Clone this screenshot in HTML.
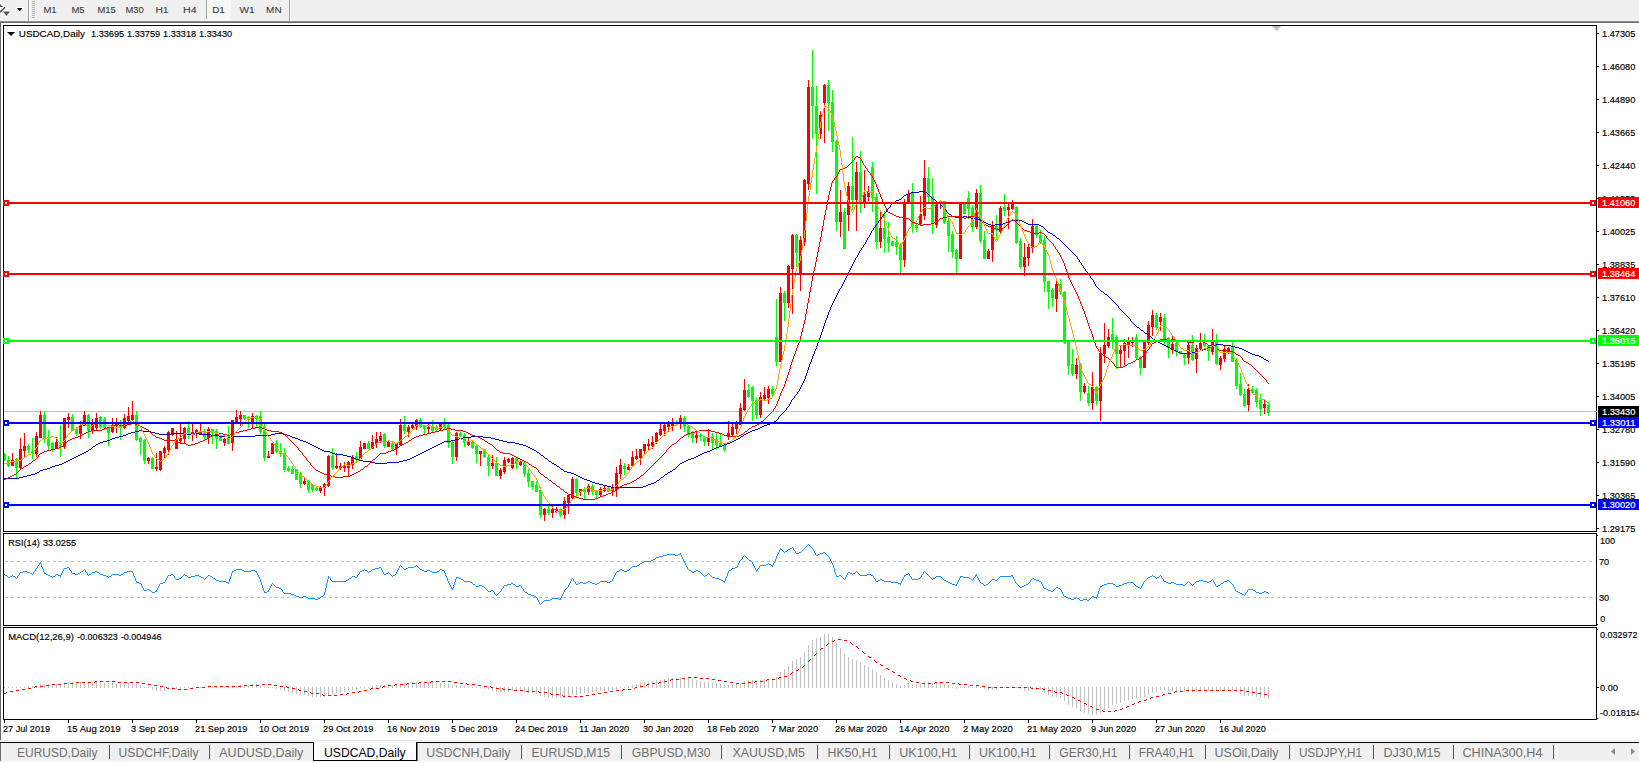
<!DOCTYPE html>
<html><head><meta charset="utf-8"><title>USDCAD,Daily</title>
<style>
html,body{margin:0;padding:0;background:#fff;}
body{width:1639px;height:763px;position:relative;overflow:hidden;font-family:"Liberation Sans",sans-serif;}
.abs{position:absolute;}
#tb{left:0;top:0;width:1639px;height:21px;background:#f0f0f0;}
.tbt{position:absolute;top:4px;font-size:10.5px;color:#3c3c3c;line-height:12px;white-space:nowrap;}
.tab{position:absolute;top:745px;font-size:12.5px;color:#6a6a6a;line-height:14px;white-space:nowrap;}
.sep{position:absolute;top:745px;width:1px;height:14px;background:#555;}
</style></head><body>
<div class="abs" id="tb"></div>
<div class="abs" style="left:0;top:21px;width:1639px;height:1px;background:#919191"></div>
<div class="abs" style="left:0;top:22px;width:1639px;height:1px;background:#696969"></div>
<div class="abs" style="left:0;top:23px;width:1px;height:717px;background:#696969"></div>
<!-- toolbar -->
<div class="abs" style="left:28px;top:0;width:1px;height:21px;background:#a0a0a0"></div>
<div class="abs" style="left:29px;top:0;width:1px;height:21px;background:#fff"></div>
<div class="abs" style="left:32px;top:1px;width:3px;height:18px;background:repeating-linear-gradient(#b0b0b0 0 1px,#f0f0f0 1px 2px)"></div>
<div class="abs" style="left:206px;top:0;width:1px;height:19px;background:#a0a0a0"></div>
<div class="abs" style="left:207px;top:0;width:24px;height:19px;background:#f7f7f7"></div><div class="abs" style="left:206px;top:19px;width:26px;height:1px;background:#fbfbfb"></div>
<div class="abs" style="left:289px;top:0;width:1px;height:21px;background:#a0a0a0"></div>
<div class="abs" style="left:290px;top:0;width:1px;height:21px;background:#fff"></div>
<svg class="abs" style="left:0;top:0" width="300" height="21" viewBox="0 0 300 21"><g stroke="#fff" stroke-width="2" stroke-linejoin="round" fill="#fff"><path d="M0 4l3 3h-3z"/><path d="M5 7.3L0 12.3"/><path d="M3 11.5h7l-3.5 4.5z"/><path d="M17 8h6l-3 3.2z"/></g><path d="M0 4l3 3h-3z" fill="#505050"/><path d="M5 7.3L0 12.3" stroke="#444" stroke-width="1.4" fill="none"/><path d="M3 11.5h7l-3.5 4.5z" fill="#555"/><path d="M17 8h5.6l-2.8 3.2z" fill="#000"/><g font-family="Liberation Sans, sans-serif" font-size="9.9" fill="#3a3a3a" stroke="#3a3a3a" stroke-width="0.1"><text x="43.4" y="13" textLength="13.2" lengthAdjust="spacingAndGlyphs">M1</text><text x="71.4" y="13" textLength="13.2" lengthAdjust="spacingAndGlyphs">M5</text><text x="97.4" y="13" textLength="18.2" lengthAdjust="spacingAndGlyphs">M15</text><text x="125.4" y="13" textLength="18.2" lengthAdjust="spacingAndGlyphs">M30</text><text x="155.4" y="13" textLength="13.2" lengthAdjust="spacingAndGlyphs">H1</text><text x="182.9" y="13" textLength="13.7" lengthAdjust="spacingAndGlyphs">H4</text><text x="212.2" y="13" textLength="12.6" lengthAdjust="spacingAndGlyphs">D1</text><text x="239.5" y="13" textLength="15.1" lengthAdjust="spacingAndGlyphs">W1</text><text x="266.1" y="13" textLength="15.5" lengthAdjust="spacingAndGlyphs">MN</text></g></svg>
<svg width="1639" height="763" viewBox="0 0 1639 763" style="position:absolute;left:0;top:0" shape-rendering="crispEdges">
<rect x="3" y="25" width="1594" height="1" fill="#000"/>
<rect x="3" y="531" width="1594" height="1" fill="#000"/>
<rect x="3" y="25" width="1" height="507" fill="#000"/>
<rect x="1596" y="25" width="1" height="507" fill="#000"/>
<rect x="3" y="533" width="1594" height="1" fill="#000"/>
<rect x="3" y="625" width="1594" height="1" fill="#000"/>
<rect x="3" y="533" width="1" height="93" fill="#000"/>
<rect x="1596" y="533" width="1" height="93" fill="#000"/>
<rect x="3" y="627" width="1594" height="1" fill="#000"/>
<rect x="3" y="719" width="1594" height="1" fill="#000"/>
<rect x="3" y="627" width="1" height="93" fill="#000"/>
<rect x="1596" y="627" width="1" height="93" fill="#000"/>
<defs><clipPath id="c1"><rect x="4" y="26" width="1592" height="505"/></clipPath><clipPath id="c2"><rect x="4" y="534" width="1592" height="91"/></clipPath><clipPath id="c3"><rect x="4" y="628" width="1592" height="91"/></clipPath></defs>
<g clip-path="url(#c1)">
<rect x="4" y="411" width="1592" height="1" fill="#c0c0c0"/>
<rect x="4" y="453" width="1" height="8" fill="#00ff00"/>
<rect x="3" y="454" width="3" height="6" fill="#00ff00"/>
<rect x="8" y="456" width="1" height="11" fill="#00ff00"/>
<rect x="7" y="460" width="3" height="6" fill="#00ff00"/>
<rect x="12" y="453" width="1" height="13" fill="#ff0000"/>
<rect x="11" y="460" width="3" height="6" fill="#ff0000"/>
<rect x="16" y="458" width="1" height="21" fill="#00ff00"/>
<rect x="15" y="459" width="3" height="9" fill="#00ff00"/>
<rect x="20" y="438" width="1" height="32" fill="#ff0000"/>
<rect x="19" y="449" width="3" height="19" fill="#ff0000"/>
<rect x="24" y="433" width="1" height="24" fill="#ff0000"/>
<rect x="23" y="446" width="3" height="5" fill="#ff0000"/>
<rect x="28" y="444" width="1" height="9" fill="#00ff00"/>
<rect x="27" y="446" width="3" height="4" fill="#00ff00"/>
<rect x="32" y="438" width="1" height="21" fill="#00ff00"/>
<rect x="31" y="451" width="3" height="3" fill="#00ff00"/>
<rect x="36" y="432" width="1" height="25" fill="#ff0000"/>
<rect x="35" y="436" width="3" height="18" fill="#ff0000"/>
<rect x="40" y="411" width="1" height="27" fill="#ff0000"/>
<rect x="39" y="415" width="3" height="23" fill="#ff0000"/>
<rect x="44" y="412" width="1" height="31" fill="#00ff00"/>
<rect x="43" y="415" width="3" height="24" fill="#00ff00"/>
<rect x="48" y="430" width="1" height="20" fill="#00ff00"/>
<rect x="47" y="439" width="3" height="7" fill="#00ff00"/>
<rect x="52" y="442" width="1" height="10" fill="#00ff00"/>
<rect x="51" y="443" width="3" height="7" fill="#00ff00"/>
<rect x="56" y="437" width="1" height="12" fill="#ff0000"/>
<rect x="55" y="442" width="3" height="7" fill="#ff0000"/>
<rect x="60" y="425" width="1" height="32" fill="#00ff00"/>
<rect x="59" y="444" width="3" height="3" fill="#00ff00"/>
<rect x="64" y="418" width="1" height="31" fill="#ff0000"/>
<rect x="63" y="418" width="3" height="29" fill="#ff0000"/>
<rect x="68" y="413" width="1" height="15" fill="#ff0000"/>
<rect x="67" y="417" width="3" height="3" fill="#ff0000"/>
<rect x="72" y="414" width="1" height="17" fill="#00ff00"/>
<rect x="71" y="417" width="3" height="14" fill="#00ff00"/>
<rect x="76" y="427" width="1" height="9" fill="#00ff00"/>
<rect x="75" y="429" width="3" height="5" fill="#00ff00"/>
<rect x="80" y="421" width="1" height="18" fill="#ff0000"/>
<rect x="79" y="425" width="3" height="9" fill="#ff0000"/>
<rect x="84" y="411" width="1" height="15" fill="#ff0000"/>
<rect x="83" y="415" width="3" height="11" fill="#ff0000"/>
<rect x="88" y="414" width="1" height="24" fill="#00ff00"/>
<rect x="87" y="415" width="3" height="16" fill="#00ff00"/>
<rect x="92" y="419" width="1" height="15" fill="#ff0000"/>
<rect x="91" y="422" width="3" height="9" fill="#ff0000"/>
<rect x="96" y="413" width="1" height="18" fill="#ff0000"/>
<rect x="95" y="418" width="3" height="10" fill="#ff0000"/>
<rect x="100" y="416" width="1" height="13" fill="#00ff00"/>
<rect x="99" y="417" width="3" height="10" fill="#00ff00"/>
<rect x="104" y="417" width="1" height="13" fill="#00ff00"/>
<rect x="103" y="419" width="3" height="9" fill="#00ff00"/>
<rect x="108" y="427" width="1" height="19" fill="#00ff00"/>
<rect x="107" y="428" width="3" height="5" fill="#00ff00"/>
<rect x="112" y="418" width="1" height="15" fill="#ff0000"/>
<rect x="111" y="425" width="3" height="7" fill="#ff0000"/>
<rect x="116" y="418" width="1" height="15" fill="#ff0000"/>
<rect x="115" y="424" width="3" height="2" fill="#ff0000"/>
<rect x="120" y="420" width="1" height="20" fill="#00ff00"/>
<rect x="119" y="425" width="3" height="3" fill="#00ff00"/>
<rect x="124" y="414" width="1" height="15" fill="#ff0000"/>
<rect x="123" y="418" width="3" height="10" fill="#ff0000"/>
<rect x="128" y="407" width="1" height="15" fill="#ff0000"/>
<rect x="127" y="416" width="3" height="5" fill="#ff0000"/>
<rect x="132" y="401" width="1" height="20" fill="#ff0000"/>
<rect x="131" y="415" width="3" height="5" fill="#ff0000"/>
<rect x="136" y="411" width="1" height="30" fill="#00ff00"/>
<rect x="135" y="415" width="3" height="25" fill="#00ff00"/>
<rect x="140" y="437" width="1" height="18" fill="#00ff00"/>
<rect x="139" y="438" width="3" height="4" fill="#00ff00"/>
<rect x="144" y="439" width="1" height="25" fill="#00ff00"/>
<rect x="143" y="440" width="3" height="21" fill="#00ff00"/>
<rect x="148" y="457" width="1" height="7" fill="#ff0000"/>
<rect x="147" y="458" width="3" height="3" fill="#ff0000"/>
<rect x="152" y="457" width="1" height="12" fill="#00ff00"/>
<rect x="151" y="458" width="3" height="11" fill="#00ff00"/>
<rect x="156" y="453" width="1" height="18" fill="#ff0000"/>
<rect x="155" y="467" width="3" height="2" fill="#ff0000"/>
<rect x="160" y="451" width="1" height="20" fill="#ff0000"/>
<rect x="159" y="451" width="3" height="19" fill="#ff0000"/>
<rect x="164" y="446" width="1" height="12" fill="#ff0000"/>
<rect x="163" y="448" width="3" height="5" fill="#ff0000"/>
<rect x="168" y="431" width="1" height="24" fill="#ff0000"/>
<rect x="167" y="432" width="3" height="18" fill="#ff0000"/>
<rect x="172" y="428" width="1" height="8" fill="#ff0000"/>
<rect x="171" y="428" width="3" height="7" fill="#ff0000"/>
<rect x="176" y="431" width="1" height="18" fill="#ff0000"/>
<rect x="175" y="439" width="3" height="10" fill="#ff0000"/>
<rect x="180" y="424" width="1" height="20" fill="#ff0000"/>
<rect x="179" y="438" width="3" height="3" fill="#ff0000"/>
<rect x="184" y="427" width="1" height="17" fill="#ff0000"/>
<rect x="183" y="428" width="3" height="11" fill="#ff0000"/>
<rect x="188" y="421" width="1" height="18" fill="#00ff00"/>
<rect x="187" y="428" width="3" height="7" fill="#00ff00"/>
<rect x="192" y="424" width="1" height="17" fill="#ff0000"/>
<rect x="191" y="432" width="3" height="3" fill="#ff0000"/>
<rect x="196" y="429" width="1" height="9" fill="#ff0000"/>
<rect x="195" y="430" width="3" height="3" fill="#ff0000"/>
<rect x="200" y="424" width="1" height="10" fill="#ff0000"/>
<rect x="199" y="431" width="3" height="3" fill="#ff0000"/>
<rect x="204" y="429" width="1" height="11" fill="#00ff00"/>
<rect x="203" y="431" width="3" height="6" fill="#00ff00"/>
<rect x="208" y="427" width="1" height="17" fill="#ff0000"/>
<rect x="207" y="429" width="3" height="9" fill="#ff0000"/>
<rect x="212" y="429" width="1" height="15" fill="#00ff00"/>
<rect x="211" y="429" width="3" height="4" fill="#00ff00"/>
<rect x="216" y="429" width="1" height="20" fill="#00ff00"/>
<rect x="215" y="431" width="3" height="8" fill="#00ff00"/>
<rect x="220" y="436" width="1" height="5" fill="#00ff00"/>
<rect x="219" y="437" width="3" height="4" fill="#00ff00"/>
<rect x="224" y="438" width="1" height="8" fill="#ff0000"/>
<rect x="223" y="439" width="3" height="4" fill="#ff0000"/>
<rect x="228" y="426" width="1" height="18" fill="#00ff00"/>
<rect x="227" y="438" width="3" height="6" fill="#00ff00"/>
<rect x="232" y="420" width="1" height="31" fill="#ff0000"/>
<rect x="231" y="420" width="3" height="23" fill="#ff0000"/>
<rect x="236" y="410" width="1" height="13" fill="#ff0000"/>
<rect x="235" y="417" width="3" height="5" fill="#ff0000"/>
<rect x="240" y="411" width="1" height="15" fill="#ff0000"/>
<rect x="239" y="415" width="3" height="4" fill="#ff0000"/>
<rect x="244" y="415" width="1" height="5" fill="#00ff00"/>
<rect x="243" y="415" width="3" height="4" fill="#00ff00"/>
<rect x="248" y="416" width="1" height="12" fill="#00ff00"/>
<rect x="247" y="417" width="3" height="3" fill="#00ff00"/>
<rect x="252" y="413" width="1" height="16" fill="#ff0000"/>
<rect x="251" y="416" width="3" height="7" fill="#ff0000"/>
<rect x="256" y="415" width="1" height="12" fill="#00ff00"/>
<rect x="255" y="416" width="3" height="3" fill="#00ff00"/>
<rect x="260" y="411" width="1" height="23" fill="#00ff00"/>
<rect x="259" y="416" width="3" height="16" fill="#00ff00"/>
<rect x="264" y="424" width="1" height="37" fill="#00ff00"/>
<rect x="263" y="430" width="3" height="28" fill="#00ff00"/>
<rect x="268" y="451" width="1" height="7" fill="#ff0000"/>
<rect x="267" y="456" width="3" height="2" fill="#ff0000"/>
<rect x="272" y="443" width="1" height="11" fill="#ff0000"/>
<rect x="271" y="443" width="3" height="11" fill="#ff0000"/>
<rect x="276" y="440" width="1" height="13" fill="#00ff00"/>
<rect x="275" y="443" width="3" height="9" fill="#00ff00"/>
<rect x="280" y="443" width="1" height="14" fill="#00ff00"/>
<rect x="279" y="451" width="3" height="3" fill="#00ff00"/>
<rect x="284" y="448" width="1" height="24" fill="#00ff00"/>
<rect x="283" y="453" width="3" height="17" fill="#00ff00"/>
<rect x="288" y="466" width="1" height="6" fill="#00ff00"/>
<rect x="287" y="468" width="3" height="3" fill="#00ff00"/>
<rect x="292" y="466" width="1" height="8" fill="#00ff00"/>
<rect x="291" y="469" width="3" height="5" fill="#00ff00"/>
<rect x="296" y="469" width="1" height="11" fill="#00ff00"/>
<rect x="295" y="469" width="3" height="11" fill="#00ff00"/>
<rect x="300" y="472" width="1" height="16" fill="#00ff00"/>
<rect x="299" y="473" width="3" height="11" fill="#00ff00"/>
<rect x="304" y="478" width="1" height="7" fill="#ff0000"/>
<rect x="303" y="481" width="3" height="3" fill="#ff0000"/>
<rect x="308" y="480" width="1" height="13" fill="#00ff00"/>
<rect x="307" y="481" width="3" height="9" fill="#00ff00"/>
<rect x="312" y="484" width="1" height="8" fill="#00ff00"/>
<rect x="311" y="484" width="3" height="6" fill="#00ff00"/>
<rect x="316" y="486" width="1" height="5" fill="#00ff00"/>
<rect x="315" y="488" width="3" height="2" fill="#00ff00"/>
<rect x="320" y="486" width="1" height="7" fill="#ff0000"/>
<rect x="319" y="487" width="3" height="4" fill="#ff0000"/>
<rect x="324" y="483" width="1" height="13" fill="#ff0000"/>
<rect x="323" y="484" width="3" height="4" fill="#ff0000"/>
<rect x="328" y="455" width="1" height="32" fill="#ff0000"/>
<rect x="327" y="456" width="3" height="30" fill="#ff0000"/>
<rect x="332" y="448" width="1" height="22" fill="#00ff00"/>
<rect x="331" y="456" width="3" height="12" fill="#00ff00"/>
<rect x="336" y="453" width="1" height="16" fill="#ff0000"/>
<rect x="335" y="466" width="3" height="2" fill="#ff0000"/>
<rect x="340" y="463" width="1" height="7" fill="#ff0000"/>
<rect x="339" y="466" width="3" height="2" fill="#ff0000"/>
<rect x="344" y="462" width="1" height="10" fill="#ff0000"/>
<rect x="343" y="466" width="3" height="2" fill="#ff0000"/>
<rect x="348" y="461" width="1" height="16" fill="#ff0000"/>
<rect x="347" y="462" width="3" height="6" fill="#ff0000"/>
<rect x="352" y="455" width="1" height="14" fill="#ff0000"/>
<rect x="351" y="457" width="3" height="8" fill="#ff0000"/>
<rect x="356" y="452" width="1" height="11" fill="#00ff00"/>
<rect x="355" y="456" width="3" height="4" fill="#00ff00"/>
<rect x="360" y="441" width="1" height="18" fill="#ff0000"/>
<rect x="359" y="447" width="3" height="12" fill="#ff0000"/>
<rect x="364" y="443" width="1" height="6" fill="#ff0000"/>
<rect x="363" y="443" width="3" height="6" fill="#ff0000"/>
<rect x="368" y="441" width="1" height="8" fill="#00ff00"/>
<rect x="367" y="443" width="3" height="6" fill="#00ff00"/>
<rect x="372" y="435" width="1" height="14" fill="#ff0000"/>
<rect x="371" y="442" width="3" height="7" fill="#ff0000"/>
<rect x="376" y="432" width="1" height="16" fill="#ff0000"/>
<rect x="375" y="439" width="3" height="5" fill="#ff0000"/>
<rect x="380" y="432" width="1" height="11" fill="#ff0000"/>
<rect x="379" y="436" width="3" height="5" fill="#ff0000"/>
<rect x="384" y="433" width="1" height="15" fill="#00ff00"/>
<rect x="383" y="434" width="3" height="12" fill="#00ff00"/>
<rect x="388" y="440" width="1" height="7" fill="#ff0000"/>
<rect x="387" y="442" width="3" height="5" fill="#ff0000"/>
<rect x="392" y="441" width="1" height="9" fill="#00ff00"/>
<rect x="391" y="443" width="3" height="6" fill="#00ff00"/>
<rect x="396" y="443" width="1" height="12" fill="#ff0000"/>
<rect x="395" y="443" width="3" height="6" fill="#ff0000"/>
<rect x="400" y="419" width="1" height="27" fill="#ff0000"/>
<rect x="399" y="425" width="3" height="20" fill="#ff0000"/>
<rect x="404" y="416" width="1" height="18" fill="#00ff00"/>
<rect x="403" y="425" width="3" height="6" fill="#00ff00"/>
<rect x="408" y="425" width="1" height="12" fill="#ff0000"/>
<rect x="407" y="427" width="3" height="5" fill="#ff0000"/>
<rect x="412" y="424" width="1" height="5" fill="#ff0000"/>
<rect x="411" y="425" width="3" height="3" fill="#ff0000"/>
<rect x="416" y="419" width="1" height="11" fill="#ff0000"/>
<rect x="415" y="420" width="3" height="7" fill="#ff0000"/>
<rect x="420" y="418" width="1" height="10" fill="#00ff00"/>
<rect x="419" y="420" width="3" height="7" fill="#00ff00"/>
<rect x="424" y="425" width="1" height="10" fill="#00ff00"/>
<rect x="423" y="426" width="3" height="3" fill="#00ff00"/>
<rect x="428" y="423" width="1" height="10" fill="#ff0000"/>
<rect x="427" y="427" width="3" height="2" fill="#ff0000"/>
<rect x="432" y="420" width="1" height="12" fill="#00ff00"/>
<rect x="431" y="426" width="3" height="5" fill="#00ff00"/>
<rect x="436" y="425" width="1" height="6" fill="#00ff00"/>
<rect x="435" y="427" width="3" height="3" fill="#00ff00"/>
<rect x="440" y="424" width="1" height="7" fill="#ff0000"/>
<rect x="439" y="424" width="3" height="5" fill="#ff0000"/>
<rect x="444" y="418" width="1" height="11" fill="#00ff00"/>
<rect x="443" y="423" width="3" height="5" fill="#00ff00"/>
<rect x="448" y="424" width="1" height="24" fill="#00ff00"/>
<rect x="447" y="425" width="3" height="18" fill="#00ff00"/>
<rect x="452" y="441" width="1" height="23" fill="#00ff00"/>
<rect x="451" y="442" width="3" height="15" fill="#00ff00"/>
<rect x="456" y="432" width="1" height="29" fill="#ff0000"/>
<rect x="455" y="433" width="3" height="24" fill="#ff0000"/>
<rect x="460" y="432" width="1" height="5" fill="#00ff00"/>
<rect x="459" y="433" width="3" height="3" fill="#00ff00"/>
<rect x="464" y="433" width="1" height="14" fill="#00ff00"/>
<rect x="463" y="435" width="3" height="8" fill="#00ff00"/>
<rect x="468" y="438" width="1" height="8" fill="#ff0000"/>
<rect x="467" y="442" width="3" height="3" fill="#ff0000"/>
<rect x="472" y="440" width="1" height="9" fill="#00ff00"/>
<rect x="471" y="442" width="3" height="6" fill="#00ff00"/>
<rect x="476" y="445" width="1" height="18" fill="#00ff00"/>
<rect x="475" y="446" width="3" height="8" fill="#00ff00"/>
<rect x="480" y="451" width="1" height="15" fill="#ff0000"/>
<rect x="479" y="451" width="3" height="3" fill="#ff0000"/>
<rect x="484" y="449" width="1" height="9" fill="#00ff00"/>
<rect x="483" y="450" width="3" height="7" fill="#00ff00"/>
<rect x="488" y="455" width="1" height="21" fill="#00ff00"/>
<rect x="487" y="457" width="3" height="9" fill="#00ff00"/>
<rect x="492" y="455" width="1" height="14" fill="#ff0000"/>
<rect x="491" y="463" width="3" height="3" fill="#ff0000"/>
<rect x="496" y="457" width="1" height="19" fill="#00ff00"/>
<rect x="495" y="463" width="3" height="13" fill="#00ff00"/>
<rect x="500" y="468" width="1" height="11" fill="#ff0000"/>
<rect x="499" y="470" width="3" height="6" fill="#ff0000"/>
<rect x="504" y="457" width="1" height="17" fill="#ff0000"/>
<rect x="503" y="460" width="3" height="12" fill="#ff0000"/>
<rect x="508" y="458" width="1" height="5" fill="#ff0000"/>
<rect x="507" y="459" width="3" height="3" fill="#ff0000"/>
<rect x="512" y="457" width="1" height="12" fill="#ff0000"/>
<rect x="511" y="458" width="3" height="10" fill="#ff0000"/>
<rect x="516" y="458" width="1" height="11" fill="#00ff00"/>
<rect x="515" y="458" width="3" height="6" fill="#00ff00"/>
<rect x="520" y="460" width="1" height="6" fill="#ff0000"/>
<rect x="519" y="461" width="3" height="4" fill="#ff0000"/>
<rect x="524" y="461" width="1" height="16" fill="#00ff00"/>
<rect x="523" y="463" width="3" height="11" fill="#00ff00"/>
<rect x="528" y="469" width="1" height="18" fill="#00ff00"/>
<rect x="527" y="473" width="3" height="9" fill="#00ff00"/>
<rect x="532" y="481" width="1" height="9" fill="#00ff00"/>
<rect x="531" y="481" width="3" height="6" fill="#00ff00"/>
<rect x="536" y="481" width="1" height="11" fill="#00ff00"/>
<rect x="535" y="485" width="3" height="7" fill="#00ff00"/>
<rect x="540" y="487" width="1" height="31" fill="#00ff00"/>
<rect x="539" y="490" width="3" height="25" fill="#00ff00"/>
<rect x="544" y="508" width="1" height="13" fill="#ff0000"/>
<rect x="543" y="509" width="3" height="6" fill="#ff0000"/>
<rect x="548" y="504" width="1" height="11" fill="#00ff00"/>
<rect x="547" y="509" width="3" height="4" fill="#00ff00"/>
<rect x="552" y="506" width="1" height="12" fill="#ff0000"/>
<rect x="551" y="509" width="3" height="4" fill="#ff0000"/>
<rect x="556" y="507" width="1" height="6" fill="#ff0000"/>
<rect x="555" y="509" width="3" height="3" fill="#ff0000"/>
<rect x="560" y="508" width="1" height="9" fill="#00ff00"/>
<rect x="559" y="509" width="3" height="6" fill="#00ff00"/>
<rect x="564" y="497" width="1" height="22" fill="#ff0000"/>
<rect x="563" y="501" width="3" height="14" fill="#ff0000"/>
<rect x="568" y="494" width="1" height="20" fill="#ff0000"/>
<rect x="567" y="495" width="3" height="8" fill="#ff0000"/>
<rect x="572" y="477" width="1" height="22" fill="#ff0000"/>
<rect x="571" y="479" width="3" height="19" fill="#ff0000"/>
<rect x="576" y="478" width="1" height="18" fill="#00ff00"/>
<rect x="575" y="479" width="3" height="14" fill="#00ff00"/>
<rect x="580" y="489" width="1" height="7" fill="#ff0000"/>
<rect x="579" y="489" width="3" height="3" fill="#ff0000"/>
<rect x="584" y="487" width="1" height="12" fill="#00ff00"/>
<rect x="583" y="489" width="3" height="3" fill="#00ff00"/>
<rect x="588" y="484" width="1" height="11" fill="#ff0000"/>
<rect x="587" y="486" width="3" height="6" fill="#ff0000"/>
<rect x="592" y="484" width="1" height="11" fill="#00ff00"/>
<rect x="591" y="486" width="3" height="6" fill="#00ff00"/>
<rect x="596" y="490" width="1" height="9" fill="#00ff00"/>
<rect x="595" y="491" width="3" height="4" fill="#00ff00"/>
<rect x="600" y="487" width="1" height="10" fill="#ff0000"/>
<rect x="599" y="489" width="3" height="6" fill="#ff0000"/>
<rect x="604" y="486" width="1" height="6" fill="#ff0000"/>
<rect x="603" y="488" width="3" height="3" fill="#ff0000"/>
<rect x="608" y="486" width="1" height="6" fill="#00ff00"/>
<rect x="607" y="488" width="3" height="4" fill="#00ff00"/>
<rect x="612" y="484" width="1" height="12" fill="#ff0000"/>
<rect x="611" y="487" width="3" height="4" fill="#ff0000"/>
<rect x="616" y="467" width="1" height="30" fill="#ff0000"/>
<rect x="615" y="473" width="3" height="17" fill="#ff0000"/>
<rect x="620" y="459" width="1" height="20" fill="#ff0000"/>
<rect x="619" y="465" width="3" height="9" fill="#ff0000"/>
<rect x="624" y="463" width="1" height="12" fill="#00ff00"/>
<rect x="623" y="466" width="3" height="3" fill="#00ff00"/>
<rect x="628" y="464" width="1" height="6" fill="#ff0000"/>
<rect x="627" y="467" width="3" height="3" fill="#ff0000"/>
<rect x="632" y="451" width="1" height="15" fill="#ff0000"/>
<rect x="631" y="457" width="3" height="9" fill="#ff0000"/>
<rect x="636" y="449" width="1" height="11" fill="#ff0000"/>
<rect x="635" y="456" width="3" height="3" fill="#ff0000"/>
<rect x="640" y="449" width="1" height="16" fill="#ff0000"/>
<rect x="639" y="449" width="3" height="9" fill="#ff0000"/>
<rect x="644" y="444" width="1" height="11" fill="#ff0000"/>
<rect x="643" y="444" width="3" height="7" fill="#ff0000"/>
<rect x="648" y="439" width="1" height="12" fill="#ff0000"/>
<rect x="647" y="444" width="3" height="2" fill="#ff0000"/>
<rect x="652" y="436" width="1" height="13" fill="#ff0000"/>
<rect x="651" y="442" width="3" height="4" fill="#ff0000"/>
<rect x="656" y="432" width="1" height="12" fill="#ff0000"/>
<rect x="655" y="433" width="3" height="9" fill="#ff0000"/>
<rect x="660" y="424" width="1" height="12" fill="#ff0000"/>
<rect x="659" y="429" width="3" height="6" fill="#ff0000"/>
<rect x="664" y="422" width="1" height="14" fill="#ff0000"/>
<rect x="663" y="425" width="3" height="6" fill="#ff0000"/>
<rect x="668" y="421" width="1" height="11" fill="#ff0000"/>
<rect x="667" y="423" width="3" height="4" fill="#ff0000"/>
<rect x="672" y="418" width="1" height="13" fill="#ff0000"/>
<rect x="671" y="423" width="3" height="3" fill="#ff0000"/>
<rect x="676" y="420" width="1" height="6" fill="#00ff00"/>
<rect x="675" y="422" width="3" height="2" fill="#00ff00"/>
<rect x="680" y="415" width="1" height="14" fill="#ff0000"/>
<rect x="679" y="418" width="3" height="6" fill="#ff0000"/>
<rect x="684" y="416" width="1" height="16" fill="#00ff00"/>
<rect x="683" y="418" width="3" height="9" fill="#00ff00"/>
<rect x="688" y="425" width="1" height="12" fill="#00ff00"/>
<rect x="687" y="426" width="3" height="9" fill="#00ff00"/>
<rect x="692" y="431" width="1" height="12" fill="#00ff00"/>
<rect x="691" y="433" width="3" height="5" fill="#00ff00"/>
<rect x="696" y="431" width="1" height="12" fill="#ff0000"/>
<rect x="695" y="435" width="3" height="3" fill="#ff0000"/>
<rect x="700" y="434" width="1" height="7" fill="#00ff00"/>
<rect x="699" y="435" width="3" height="2" fill="#00ff00"/>
<rect x="704" y="436" width="1" height="10" fill="#00ff00"/>
<rect x="703" y="437" width="3" height="5" fill="#00ff00"/>
<rect x="708" y="429" width="1" height="17" fill="#ff0000"/>
<rect x="707" y="437" width="3" height="5" fill="#ff0000"/>
<rect x="712" y="433" width="1" height="16" fill="#00ff00"/>
<rect x="711" y="436" width="3" height="7" fill="#00ff00"/>
<rect x="716" y="433" width="1" height="16" fill="#00ff00"/>
<rect x="715" y="439" width="3" height="6" fill="#00ff00"/>
<rect x="720" y="434" width="1" height="13" fill="#00ff00"/>
<rect x="719" y="443" width="3" height="3" fill="#00ff00"/>
<rect x="724" y="444" width="1" height="8" fill="#00ff00"/>
<rect x="723" y="445" width="3" height="5" fill="#00ff00"/>
<rect x="728" y="421" width="1" height="19" fill="#ff0000"/>
<rect x="727" y="433" width="3" height="4" fill="#ff0000"/>
<rect x="732" y="422" width="1" height="15" fill="#ff0000"/>
<rect x="731" y="427" width="3" height="8" fill="#ff0000"/>
<rect x="736" y="421" width="1" height="13" fill="#ff0000"/>
<rect x="735" y="424" width="3" height="5" fill="#ff0000"/>
<rect x="740" y="403" width="1" height="22" fill="#ff0000"/>
<rect x="739" y="408" width="3" height="17" fill="#ff0000"/>
<rect x="744" y="379" width="1" height="32" fill="#ff0000"/>
<rect x="743" y="390" width="3" height="20" fill="#ff0000"/>
<rect x="748" y="384" width="1" height="14" fill="#00ff00"/>
<rect x="747" y="390" width="3" height="7" fill="#00ff00"/>
<rect x="752" y="386" width="1" height="35" fill="#00ff00"/>
<rect x="751" y="387" width="3" height="14" fill="#00ff00"/>
<rect x="756" y="397" width="1" height="22" fill="#00ff00"/>
<rect x="755" y="400" width="3" height="15" fill="#00ff00"/>
<rect x="760" y="392" width="1" height="26" fill="#ff0000"/>
<rect x="759" y="397" width="3" height="18" fill="#ff0000"/>
<rect x="764" y="387" width="1" height="14" fill="#ff0000"/>
<rect x="763" y="395" width="3" height="4" fill="#ff0000"/>
<rect x="768" y="386" width="1" height="18" fill="#ff0000"/>
<rect x="767" y="389" width="3" height="9" fill="#ff0000"/>
<rect x="772" y="386" width="1" height="10" fill="#00ff00"/>
<rect x="771" y="389" width="3" height="5" fill="#00ff00"/>
<rect x="776" y="299" width="1" height="67" fill="#00ff00"/>
<rect x="775" y="337" width="3" height="25" fill="#00ff00"/>
<rect x="780" y="287" width="1" height="75" fill="#ff0000"/>
<rect x="779" y="293" width="3" height="69" fill="#ff0000"/>
<rect x="784" y="291" width="1" height="30" fill="#00ff00"/>
<rect x="783" y="293" width="3" height="10" fill="#00ff00"/>
<rect x="788" y="265" width="1" height="43" fill="#ff0000"/>
<rect x="787" y="266" width="3" height="37" fill="#ff0000"/>
<rect x="792" y="234" width="1" height="80" fill="#ff0000"/>
<rect x="791" y="235" width="3" height="34" fill="#ff0000"/>
<rect x="796" y="234" width="1" height="33" fill="#00ff00"/>
<rect x="795" y="235" width="3" height="18" fill="#00ff00"/>
<rect x="800" y="236" width="1" height="55" fill="#ff0000"/>
<rect x="799" y="240" width="3" height="35" fill="#ff0000"/>
<rect x="804" y="179" width="1" height="67" fill="#ff0000"/>
<rect x="803" y="180" width="3" height="62" fill="#ff0000"/>
<rect x="808" y="80" width="1" height="110" fill="#ff0000"/>
<rect x="807" y="87" width="3" height="97" fill="#ff0000"/>
<rect x="812" y="50" width="1" height="89" fill="#00ff00"/>
<rect x="811" y="87" width="3" height="19" fill="#00ff00"/>
<rect x="816" y="86" width="1" height="108" fill="#00ff00"/>
<rect x="815" y="106" width="3" height="28" fill="#00ff00"/>
<rect x="820" y="111" width="1" height="28" fill="#ff0000"/>
<rect x="819" y="115" width="3" height="19" fill="#ff0000"/>
<rect x="824" y="84" width="1" height="59" fill="#ff0000"/>
<rect x="823" y="85" width="3" height="18" fill="#ff0000"/>
<rect x="828" y="80" width="1" height="51" fill="#00ff00"/>
<rect x="827" y="85" width="3" height="18" fill="#00ff00"/>
<rect x="832" y="90" width="1" height="62" fill="#00ff00"/>
<rect x="831" y="102" width="3" height="40" fill="#00ff00"/>
<rect x="836" y="140" width="1" height="91" fill="#00ff00"/>
<rect x="835" y="141" width="3" height="81" fill="#00ff00"/>
<rect x="840" y="190" width="1" height="47" fill="#ff0000"/>
<rect x="839" y="212" width="3" height="10" fill="#ff0000"/>
<rect x="844" y="208" width="1" height="41" fill="#00ff00"/>
<rect x="843" y="212" width="3" height="37" fill="#00ff00"/>
<rect x="848" y="182" width="1" height="49" fill="#ff0000"/>
<rect x="847" y="186" width="3" height="29" fill="#ff0000"/>
<rect x="852" y="137" width="1" height="73" fill="#00ff00"/>
<rect x="851" y="186" width="3" height="14" fill="#00ff00"/>
<rect x="856" y="162" width="1" height="69" fill="#ff0000"/>
<rect x="855" y="172" width="3" height="28" fill="#ff0000"/>
<rect x="860" y="151" width="1" height="62" fill="#00ff00"/>
<rect x="859" y="172" width="3" height="31" fill="#00ff00"/>
<rect x="864" y="170" width="1" height="38" fill="#ff0000"/>
<rect x="863" y="194" width="3" height="9" fill="#ff0000"/>
<rect x="868" y="186" width="1" height="15" fill="#ff0000"/>
<rect x="867" y="192" width="3" height="5" fill="#ff0000"/>
<rect x="872" y="162" width="1" height="50" fill="#00ff00"/>
<rect x="871" y="167" width="3" height="31" fill="#00ff00"/>
<rect x="876" y="193" width="1" height="56" fill="#00ff00"/>
<rect x="875" y="197" width="3" height="45" fill="#00ff00"/>
<rect x="880" y="212" width="1" height="36" fill="#ff0000"/>
<rect x="879" y="228" width="3" height="14" fill="#ff0000"/>
<rect x="884" y="211" width="1" height="42" fill="#00ff00"/>
<rect x="883" y="228" width="3" height="11" fill="#00ff00"/>
<rect x="888" y="222" width="1" height="30" fill="#00ff00"/>
<rect x="887" y="237" width="3" height="6" fill="#00ff00"/>
<rect x="892" y="241" width="1" height="5" fill="#00ff00"/>
<rect x="891" y="241" width="3" height="5" fill="#00ff00"/>
<rect x="896" y="236" width="1" height="19" fill="#00ff00"/>
<rect x="895" y="242" width="3" height="5" fill="#00ff00"/>
<rect x="900" y="243" width="1" height="31" fill="#00ff00"/>
<rect x="899" y="245" width="3" height="15" fill="#00ff00"/>
<rect x="904" y="199" width="1" height="68" fill="#ff0000"/>
<rect x="903" y="204" width="3" height="56" fill="#ff0000"/>
<rect x="908" y="190" width="1" height="14" fill="#ff0000"/>
<rect x="907" y="194" width="3" height="10" fill="#ff0000"/>
<rect x="912" y="183" width="1" height="50" fill="#00ff00"/>
<rect x="911" y="193" width="3" height="33" fill="#00ff00"/>
<rect x="916" y="223" width="1" height="9" fill="#00ff00"/>
<rect x="915" y="225" width="3" height="3" fill="#00ff00"/>
<rect x="920" y="196" width="1" height="30" fill="#ff0000"/>
<rect x="919" y="214" width="3" height="10" fill="#ff0000"/>
<rect x="924" y="160" width="1" height="60" fill="#ff0000"/>
<rect x="923" y="178" width="3" height="38" fill="#ff0000"/>
<rect x="928" y="167" width="1" height="36" fill="#00ff00"/>
<rect x="927" y="178" width="3" height="19" fill="#00ff00"/>
<rect x="932" y="178" width="1" height="56" fill="#00ff00"/>
<rect x="931" y="196" width="3" height="28" fill="#00ff00"/>
<rect x="936" y="203" width="1" height="25" fill="#ff0000"/>
<rect x="935" y="204" width="3" height="21" fill="#ff0000"/>
<rect x="940" y="200" width="1" height="9" fill="#ff0000"/>
<rect x="939" y="201" width="3" height="3" fill="#ff0000"/>
<rect x="944" y="201" width="1" height="23" fill="#00ff00"/>
<rect x="943" y="201" width="3" height="22" fill="#00ff00"/>
<rect x="948" y="218" width="1" height="34" fill="#00ff00"/>
<rect x="947" y="221" width="3" height="15" fill="#00ff00"/>
<rect x="952" y="231" width="1" height="27" fill="#00ff00"/>
<rect x="951" y="234" width="3" height="18" fill="#00ff00"/>
<rect x="956" y="249" width="1" height="26" fill="#00ff00"/>
<rect x="955" y="250" width="3" height="9" fill="#00ff00"/>
<rect x="960" y="203" width="1" height="56" fill="#ff0000"/>
<rect x="959" y="203" width="3" height="56" fill="#ff0000"/>
<rect x="964" y="203" width="1" height="11" fill="#00ff00"/>
<rect x="963" y="203" width="3" height="11" fill="#00ff00"/>
<rect x="968" y="191" width="1" height="28" fill="#00ff00"/>
<rect x="967" y="198" width="3" height="11" fill="#00ff00"/>
<rect x="972" y="205" width="1" height="27" fill="#00ff00"/>
<rect x="971" y="208" width="3" height="19" fill="#00ff00"/>
<rect x="976" y="189" width="1" height="40" fill="#ff0000"/>
<rect x="975" y="193" width="3" height="34" fill="#ff0000"/>
<rect x="980" y="185" width="1" height="58" fill="#00ff00"/>
<rect x="979" y="193" width="3" height="48" fill="#00ff00"/>
<rect x="984" y="231" width="1" height="28" fill="#00ff00"/>
<rect x="983" y="240" width="3" height="19" fill="#00ff00"/>
<rect x="988" y="249" width="1" height="10" fill="#ff0000"/>
<rect x="987" y="251" width="3" height="8" fill="#ff0000"/>
<rect x="992" y="221" width="1" height="41" fill="#ff0000"/>
<rect x="991" y="226" width="3" height="24" fill="#ff0000"/>
<rect x="996" y="215" width="1" height="25" fill="#00ff00"/>
<rect x="995" y="226" width="3" height="4" fill="#00ff00"/>
<rect x="1000" y="206" width="1" height="27" fill="#ff0000"/>
<rect x="999" y="208" width="3" height="24" fill="#ff0000"/>
<rect x="1004" y="194" width="1" height="22" fill="#00ff00"/>
<rect x="1003" y="207" width="3" height="4" fill="#00ff00"/>
<rect x="1008" y="203" width="1" height="26" fill="#ff0000"/>
<rect x="1007" y="207" width="3" height="3" fill="#ff0000"/>
<rect x="1012" y="200" width="1" height="10" fill="#ff0000"/>
<rect x="1011" y="203" width="3" height="6" fill="#ff0000"/>
<rect x="1016" y="206" width="1" height="38" fill="#00ff00"/>
<rect x="1015" y="207" width="3" height="36" fill="#00ff00"/>
<rect x="1020" y="238" width="1" height="31" fill="#00ff00"/>
<rect x="1019" y="241" width="3" height="26" fill="#00ff00"/>
<rect x="1024" y="243" width="1" height="33" fill="#ff0000"/>
<rect x="1023" y="257" width="3" height="10" fill="#ff0000"/>
<rect x="1028" y="243" width="1" height="23" fill="#ff0000"/>
<rect x="1027" y="247" width="3" height="11" fill="#ff0000"/>
<rect x="1032" y="219" width="1" height="34" fill="#ff0000"/>
<rect x="1031" y="226" width="3" height="22" fill="#ff0000"/>
<rect x="1036" y="224" width="1" height="14" fill="#00ff00"/>
<rect x="1035" y="226" width="3" height="9" fill="#00ff00"/>
<rect x="1040" y="230" width="1" height="14" fill="#00ff00"/>
<rect x="1039" y="235" width="3" height="7" fill="#00ff00"/>
<rect x="1044" y="236" width="1" height="56" fill="#00ff00"/>
<rect x="1043" y="240" width="3" height="42" fill="#00ff00"/>
<rect x="1048" y="281" width="1" height="28" fill="#00ff00"/>
<rect x="1047" y="281" width="3" height="11" fill="#00ff00"/>
<rect x="1052" y="288" width="1" height="19" fill="#00ff00"/>
<rect x="1051" y="290" width="3" height="8" fill="#00ff00"/>
<rect x="1056" y="280" width="1" height="32" fill="#ff0000"/>
<rect x="1055" y="284" width="3" height="15" fill="#ff0000"/>
<rect x="1060" y="279" width="1" height="16" fill="#00ff00"/>
<rect x="1059" y="284" width="3" height="8" fill="#00ff00"/>
<rect x="1064" y="291" width="1" height="53" fill="#00ff00"/>
<rect x="1063" y="292" width="3" height="51" fill="#00ff00"/>
<rect x="1068" y="340" width="1" height="35" fill="#00ff00"/>
<rect x="1067" y="340" width="3" height="26" fill="#00ff00"/>
<rect x="1072" y="349" width="1" height="27" fill="#00ff00"/>
<rect x="1071" y="364" width="3" height="10" fill="#00ff00"/>
<rect x="1076" y="358" width="1" height="21" fill="#ff0000"/>
<rect x="1075" y="365" width="3" height="9" fill="#ff0000"/>
<rect x="1080" y="363" width="1" height="38" fill="#00ff00"/>
<rect x="1079" y="365" width="3" height="27" fill="#00ff00"/>
<rect x="1084" y="383" width="1" height="11" fill="#ff0000"/>
<rect x="1083" y="386" width="3" height="6" fill="#ff0000"/>
<rect x="1088" y="386" width="1" height="20" fill="#00ff00"/>
<rect x="1087" y="393" width="3" height="10" fill="#00ff00"/>
<rect x="1092" y="372" width="1" height="38" fill="#ff0000"/>
<rect x="1091" y="387" width="3" height="16" fill="#ff0000"/>
<rect x="1096" y="386" width="1" height="19" fill="#00ff00"/>
<rect x="1095" y="387" width="3" height="14" fill="#00ff00"/>
<rect x="1100" y="347" width="1" height="74" fill="#ff0000"/>
<rect x="1099" y="353" width="3" height="48" fill="#ff0000"/>
<rect x="1104" y="323" width="1" height="40" fill="#ff0000"/>
<rect x="1103" y="345" width="3" height="9" fill="#ff0000"/>
<rect x="1108" y="329" width="1" height="19" fill="#ff0000"/>
<rect x="1107" y="337" width="3" height="9" fill="#ff0000"/>
<rect x="1112" y="318" width="1" height="31" fill="#00ff00"/>
<rect x="1111" y="334" width="3" height="6" fill="#00ff00"/>
<rect x="1116" y="335" width="1" height="34" fill="#00ff00"/>
<rect x="1115" y="337" width="3" height="17" fill="#00ff00"/>
<rect x="1120" y="346" width="1" height="22" fill="#ff0000"/>
<rect x="1119" y="350" width="3" height="4" fill="#ff0000"/>
<rect x="1124" y="339" width="1" height="26" fill="#ff0000"/>
<rect x="1123" y="343" width="3" height="8" fill="#ff0000"/>
<rect x="1128" y="337" width="1" height="21" fill="#ff0000"/>
<rect x="1127" y="341" width="3" height="4" fill="#ff0000"/>
<rect x="1132" y="337" width="1" height="10" fill="#ff0000"/>
<rect x="1131" y="341" width="3" height="2" fill="#ff0000"/>
<rect x="1136" y="334" width="1" height="25" fill="#00ff00"/>
<rect x="1135" y="337" width="3" height="21" fill="#00ff00"/>
<rect x="1140" y="356" width="1" height="19" fill="#00ff00"/>
<rect x="1139" y="357" width="3" height="11" fill="#00ff00"/>
<rect x="1144" y="342" width="1" height="26" fill="#ff0000"/>
<rect x="1143" y="342" width="3" height="26" fill="#ff0000"/>
<rect x="1148" y="321" width="1" height="24" fill="#ff0000"/>
<rect x="1147" y="325" width="3" height="18" fill="#ff0000"/>
<rect x="1152" y="310" width="1" height="26" fill="#ff0000"/>
<rect x="1151" y="315" width="3" height="12" fill="#ff0000"/>
<rect x="1156" y="313" width="1" height="17" fill="#00ff00"/>
<rect x="1155" y="315" width="3" height="13" fill="#00ff00"/>
<rect x="1160" y="313" width="1" height="18" fill="#ff0000"/>
<rect x="1159" y="317" width="3" height="5" fill="#ff0000"/>
<rect x="1164" y="314" width="1" height="31" fill="#00ff00"/>
<rect x="1163" y="318" width="3" height="23" fill="#00ff00"/>
<rect x="1168" y="337" width="1" height="21" fill="#00ff00"/>
<rect x="1167" y="338" width="3" height="10" fill="#00ff00"/>
<rect x="1172" y="335" width="1" height="19" fill="#ff0000"/>
<rect x="1171" y="344" width="3" height="6" fill="#ff0000"/>
<rect x="1176" y="342" width="1" height="14" fill="#00ff00"/>
<rect x="1175" y="343" width="3" height="9" fill="#00ff00"/>
<rect x="1180" y="351" width="1" height="3" fill="#00ff00"/>
<rect x="1179" y="351" width="3" height="3" fill="#00ff00"/>
<rect x="1184" y="354" width="1" height="11" fill="#00ff00"/>
<rect x="1183" y="355" width="3" height="3" fill="#00ff00"/>
<rect x="1188" y="342" width="1" height="22" fill="#ff0000"/>
<rect x="1187" y="345" width="3" height="13" fill="#ff0000"/>
<rect x="1192" y="335" width="1" height="26" fill="#00ff00"/>
<rect x="1191" y="345" width="3" height="15" fill="#00ff00"/>
<rect x="1196" y="345" width="1" height="28" fill="#ff0000"/>
<rect x="1195" y="348" width="3" height="11" fill="#ff0000"/>
<rect x="1200" y="333" width="1" height="18" fill="#ff0000"/>
<rect x="1199" y="343" width="3" height="6" fill="#ff0000"/>
<rect x="1204" y="334" width="1" height="13" fill="#00ff00"/>
<rect x="1203" y="343" width="3" height="3" fill="#00ff00"/>
<rect x="1208" y="345" width="1" height="16" fill="#00ff00"/>
<rect x="1207" y="346" width="3" height="5" fill="#00ff00"/>
<rect x="1212" y="329" width="1" height="26" fill="#ff0000"/>
<rect x="1211" y="342" width="3" height="10" fill="#ff0000"/>
<rect x="1216" y="334" width="1" height="31" fill="#00ff00"/>
<rect x="1215" y="341" width="3" height="23" fill="#00ff00"/>
<rect x="1220" y="356" width="1" height="14" fill="#ff0000"/>
<rect x="1219" y="358" width="3" height="7" fill="#ff0000"/>
<rect x="1224" y="345" width="1" height="17" fill="#ff0000"/>
<rect x="1223" y="349" width="3" height="10" fill="#ff0000"/>
<rect x="1228" y="347" width="1" height="7" fill="#ff0000"/>
<rect x="1227" y="348" width="3" height="3" fill="#ff0000"/>
<rect x="1232" y="342" width="1" height="20" fill="#00ff00"/>
<rect x="1231" y="347" width="3" height="15" fill="#00ff00"/>
<rect x="1236" y="358" width="1" height="31" fill="#00ff00"/>
<rect x="1235" y="360" width="3" height="26" fill="#00ff00"/>
<rect x="1240" y="373" width="1" height="23" fill="#00ff00"/>
<rect x="1239" y="384" width="3" height="11" fill="#00ff00"/>
<rect x="1244" y="389" width="1" height="18" fill="#00ff00"/>
<rect x="1243" y="394" width="3" height="12" fill="#00ff00"/>
<rect x="1248" y="384" width="1" height="27" fill="#ff0000"/>
<rect x="1247" y="389" width="3" height="16" fill="#ff0000"/>
<rect x="1252" y="386" width="1" height="7" fill="#00ff00"/>
<rect x="1251" y="389" width="3" height="4" fill="#00ff00"/>
<rect x="1256" y="388" width="1" height="19" fill="#00ff00"/>
<rect x="1255" y="390" width="3" height="12" fill="#00ff00"/>
<rect x="1260" y="394" width="1" height="22" fill="#00ff00"/>
<rect x="1259" y="400" width="3" height="9" fill="#00ff00"/>
<rect x="1264" y="400" width="1" height="14" fill="#ff0000"/>
<rect x="1263" y="404" width="3" height="4" fill="#ff0000"/>
<rect x="1268" y="402" width="1" height="14" fill="#00ff00"/>
<rect x="1267" y="405" width="3" height="8" fill="#00ff00"/>
<path fill="#0000cd" d="M1164 345h2v1h-2zM1214 345h2v1h-2zM1223 345h8v1h-8zM128 433h3v1h-3zM155 433h4v1h-4zM171 433h16v1h-16zM195 433h4v1h-4zM275 433h8v1h-8zM746 433h2v1h-2zM103 441h4v1h-4zM303 441h3v1h-3zM444 441h7v1h-7zM503 441h4v1h-4zM732 441h2v1h-2zM96 444h2v1h-2zM310 444h2v1h-2zM438 444h2v1h-2zM519 444h4v1h-4zM724 444h3v1h-3zM19 477h4v1h-4zM580 477h2v1h-2zM661 477h2v1h-2zM107 440h3v1h-3zM300 440h3v1h-3zM451 440h4v1h-4zM499 440h4v1h-4zM734 440h2v1h-2zM584 479h3v1h-3zM84 452h2v1h-2zM330 452h2v1h-2zM422 452h2v1h-2zM537 452h2v1h-2zM704 452h3v1h-3zM80 454h2v1h-2zM335 454h8v1h-8zM418 454h2v1h-2zM700 454h2v1h-2zM23 476h4v1h-4zM578 476h2v1h-2zM123 435h3v1h-3zM211 435h8v1h-8zM255 435h16v1h-16zM287 435h3v1h-3zM1255 355h4v1h-4zM86 451h2v1h-2zM324 451h6v1h-6zM424 451h2v1h-2zM707 451h3v1h-3zM955 217h8v1h-8zM967 217h4v1h-4zM35 473h2v1h-2zM571 473h3v1h-3zM55 465h4v1h-4zM1176 351h2v1h-2zM1198 351h2v1h-2zM1246 351h2v1h-2zM318 448h2v1h-2zM430 448h2v1h-2zM530 448h2v1h-2zM714 448h2v1h-2zM115 437h4v1h-4zM227 437h4v1h-4zM292 437h3v1h-3zM463 437h8v1h-8zM483 437h8v1h-8zM986 223h2v1h-2zM1003 223h3v1h-3zM1026 223h2v1h-2zM126 434h2v1h-2zM159 434h12v1h-12zM187 434h8v1h-8zM199 434h12v1h-12zM271 434h4v1h-4zM283 434h4v1h-4zM744 434h2v1h-2zM988 224h3v1h-3zM995 224h8v1h-8zM1028 224h11v1h-11zM78 455h2v1h-2zM343 455h4v1h-4zM416 455h2v1h-2zM541 455h2v1h-2zM698 455h2v1h-2zM50 467h2v1h-2zM908 193h3v1h-3zM64 462h2v1h-2zM371 462h4v1h-4zM387 462h12v1h-12zM682 462h2v1h-2zM980 220h2v1h-2zM1011 220h11v1h-11zM66 461h2v1h-2zM363 461h8v1h-8zM399 461h4v1h-4zM549 461h2v1h-2zM684 461h2v1h-2zM131 432h4v1h-4zM151 432h4v1h-4zM748 432h2v1h-2zM76 456h2v1h-2zM347 456h4v1h-4zM414 456h2v1h-2zM696 456h2v1h-2zM89 449h2v1h-2zM320 449h2v1h-2zM428 449h2v1h-2zM532 449h2v1h-2zM712 449h2v1h-2zM312 445h2v1h-2zM436 445h2v1h-2zM523 445h3v1h-3zM722 445h2v1h-2zM74 457h2v1h-2zM351 457h3v1h-3zM412 457h2v1h-2zM694 457h2v1h-2zM764 425h3v1h-3zM1261 357h2v1h-2zM893 202h2v1h-2zM937 202h2v1h-2zM119 436h4v1h-4zM219 436h8v1h-8zM231 436h24v1h-24zM290 436h2v1h-2zM471 436h12v1h-12zM741 436h2v1h-2zM100 442h3v1h-3zM306 442h2v1h-2zM442 442h2v1h-2zM507 442h8v1h-8zM730 442h2v1h-2zM1162 344h2v1h-2zM1216 344h7v1h-7zM603 485h4v1h-4zM646 485h2v1h-2zM607 486h4v1h-4zM643 486h3v1h-3zM911 192h8v1h-8zM925 192h2v1h-2zM1180 353h11v1h-11zM1250 353h2v1h-2zM1174 350h2v1h-2zM1200 350h3v1h-3zM1244 350h2v1h-2zM982 221h2v1h-2zM1008 221h3v1h-3zM1022 221h2v1h-2zM952 216h3v1h-3zM963 216h4v1h-4zM971 218h7v1h-7zM40 470h3v1h-3zM1168 347h2v1h-2zM1208 347h3v1h-3zM1235 347h4v1h-4zM4 478h15v1h-15zM582 478h2v1h-2zM564 471h3v1h-3zM670 471h2v1h-2zM37 472h2v1h-2zM567 472h4v1h-4zM668 472h2v1h-2zM82 453h2v1h-2zM332 453h3v1h-3zM420 453h2v1h-2zM702 453h2v1h-2zM1050 233h2v1h-2zM135 431h4v1h-4zM143 431h8v1h-8zM750 431h2v1h-2zM27 475h4v1h-4zM576 475h2v1h-2zM772 422h2v1h-2zM1170 348h2v1h-2zM1206 348h2v1h-2zM1239 348h3v1h-3zM1178 352h2v1h-2zM1191 352h7v1h-7zM1248 352h2v1h-2zM93 446h2v1h-2zM314 446h2v1h-2zM434 446h2v1h-2zM526 446h2v1h-2zM719 446h3v1h-3zM59 464h3v1h-3zM554 464h2v1h-2zM98 443h2v1h-2zM308 443h2v1h-2zM440 443h2v1h-2zM515 443h4v1h-4zM727 443h3v1h-3zM595 483h4v1h-4zM651 483h3v1h-3zM599 484h4v1h-4zM648 484h3v1h-3zM774 421h2v1h-2zM1041 226h2v1h-2zM991 225h4v1h-4zM1039 225h2v1h-2zM984 222h2v1h-2zM1006 222h2v1h-2zM1024 222h2v1h-2zM139 430h4v1h-4zM752 430h3v1h-3zM316 447h2v1h-2zM432 447h2v1h-2zM528 447h2v1h-2zM716 447h3v1h-3zM47 468h3v1h-3zM62 463h2v1h-2zM375 463h12v1h-12zM552 463h2v1h-2zM680 463h2v1h-2zM611 487h32v1h-32zM906 194h2v1h-2zM1145 333h2v1h-2zM904 195h2v1h-2zM919 191h6v1h-6zM1048 232h2v1h-2zM1156 341h2v1h-2zM31 474h4v1h-4zM574 474h2v1h-2zM665 474h2v1h-2zM1101 291h2v1h-2zM1252 354h3v1h-3zM322 450h2v1h-2zM426 450h2v1h-2zM534 450h2v1h-2zM710 450h2v1h-2zM1160 343h2v1h-2zM1057 238h2v1h-2zM110 439h2v1h-2zM298 439h2v1h-2zM455 439h4v1h-4zM495 439h4v1h-4zM736 439h2v1h-2zM72 458h2v1h-2zM354 458h2v1h-2zM410 458h2v1h-2zM545 458h2v1h-2zM691 458h3v1h-3zM112 438h3v1h-3zM295 438h3v1h-3zM459 438h4v1h-4zM491 438h4v1h-4zM738 438h2v1h-2zM1172 349h2v1h-2zM1203 349h3v1h-3zM1242 349h2v1h-2zM899 199h2v1h-2zM933 199h2v1h-2zM43 469h4v1h-4zM561 469h2v1h-2zM673 469h2v1h-2zM760 427h2v1h-2zM1053 235h2v1h-2zM52 466h3v1h-3zM557 466h2v1h-2zM762 426h2v1h-2zM1264 359h2v1h-2zM592 482h3v1h-3zM654 482h2v1h-2zM587 480h3v1h-3zM657 480h2v1h-2zM896 200h3v1h-3zM68 460h2v1h-2zM359 460h4v1h-4zM403 460h4v1h-4zM686 460h2v1h-2zM1105 294h2v1h-2zM70 459h2v1h-2zM356 459h3v1h-3zM407 459h3v1h-3zM688 459h3v1h-3zM978 219h2v1h-2zM1158 342h2v1h-2zM1166 346h2v1h-2zM1211 346h3v1h-3zM1231 346h4v1h-4zM949 214h2v1h-2zM1266 360h2v1h-2zM1153 339h2v1h-2zM1259 356h2v1h-2zM767 424h3v1h-3zM1149 336h2v1h-2zM755 429h3v1h-3zM590 481h2v1h-2zM1141 330h2v1h-2zM770 423h2v1h-2zM1137 327h2v1h-2zM758 428h2v1h-2zM782 413h1v1h-1zM1046 230h1v1h-1zM879 220h1v1h-1zM859 251h1v2h-1zM1082 265h1v1h-1zM850 268h1v2h-1zM811 359h1v3h-1zM1263 358h1v1h-1zM790 402h1v2h-1zM866 240h1v2h-1zM806 373h1v3h-1zM743 435h1v1h-1zM855 258h1v2h-1zM810 362h1v2h-1zM1045 229h1v1h-1zM556 465h1v1h-1zM846 276h1v2h-1zM814 351h1v3h-1zM870 233h1v2h-1zM827 315h1v3h-1zM882 216h1v1h-1zM862 247h1v1h-1zM805 376h1v3h-1zM794 396h1v2h-1zM854 260h1v2h-1zM809 364h1v3h-1zM1134 324h1v1h-1zM830 307h1v3h-1zM1148 335h1v1h-1zM777 419h1v1h-1zM935 200h1v1h-1zM1086 271h1v1h-1zM39 471h1v1h-1zM858 253h1v2h-1zM801 385h1v2h-1zM835 297h1v2h-1zM936 201h1v1h-1zM1090 276h1v2h-1zM1100 290h1v1h-1zM548 460h1v1h-1zM890 205h1v2h-1zM875 225h1v2h-1zM1133 323h1v1h-1zM878 221h1v2h-1zM1112 300h1v1h-1zM797 392h1v2h-1zM800 387h1v2h-1zM1118 306h1v2h-1zM873 228h1v2h-1zM932 198h1v1h-1zM885 212h1v1h-1zM813 354h1v2h-1zM1119 308h1v1h-1zM1060 240h1v1h-1zM677 466h1v1h-1zM1085 269h1v2h-1zM1125 314h1v1h-1zM869 235h1v2h-1zM845 278h1v2h-1zM544 457h1v1h-1zM812 356h1v3h-1zM1126 315h1v1h-1zM1110 298h1v1h-1zM1089 275h1v1h-1zM1067 247h1v1h-1zM1111 299h1v1h-1zM793 398h1v1h-1zM849 270h1v2h-1zM829 310h1v2h-1zM865 242h1v2h-1zM1144 332h1v1h-1zM931 197h1v1h-1zM942 206h1v1h-1zM821 332h1v3h-1zM1056 237h1v1h-1zM1074 254h1v1h-1zM857 255h1v2h-1zM943 207h1v1h-1zM789 404h1v2h-1zM828 312h1v3h-1zM861 248h1v2h-1zM804 379h1v2h-1zM784 411h1v1h-1zM853 262h1v2h-1zM796 394h1v1h-1zM808 367h1v3h-1zM1055 236h1v1h-1zM881 217h1v2h-1zM836 295h1v2h-1zM825 320h1v3h-1zM1073 253h1v1h-1zM876 224h1v1h-1zM807 370h1v3h-1zM540 454h1v1h-1zM91 448h1v1h-1zM776 420h1v1h-1zM543 456h1v1h-1zM820 335h1v3h-1zM1095 284h1v2h-1zM95 445h1v1h-1zM1139 328h1v1h-1zM824 323h1v3h-1zM840 288h1v1h-1zM1091 278h1v1h-1zM1140 329h1v1h-1zM1092 279h1v1h-1zM656 481h1v1h-1zM679 464h1v1h-1zM844 280h1v2h-1zM1268 361h1v1h-1zM660 478h1v1h-1zM1047 231h1v1h-1zM672 470h1v1h-1zM779 416h1v1h-1zM539 453h1v1h-1zM1120 309h1v1h-1zM803 381h1v2h-1zM1121 310h1v1h-1zM1062 242h1v1h-1zM816 346h1v3h-1zM892 203h1v1h-1zM848 272h1v2h-1zM799 389h1v2h-1zM872 230h1v1h-1zM884 213h1v1h-1zM864 244h1v1h-1zM927 193h1v1h-1zM819 338h1v3h-1zM831 305h1v2h-1zM664 475h1v1h-1zM1113 301h1v1h-1zM1135 325h1v1h-1zM786 408h1v2h-1zM868 237h1v1h-1zM1061 241h1v1h-1zM945 209h1v1h-1zM852 264h1v2h-1zM783 412h1v1h-1zM1094 282h1v2h-1zM843 282h1v2h-1zM887 209h1v1h-1zM740 437h1v1h-1zM1127 316h1v1h-1zM1068 248h1v1h-1zM823 326h1v3h-1zM1128 317h1v1h-1zM1069 249h1v1h-1zM839 289h1v2h-1zM815 349h1v2h-1zM1075 255h1v1h-1zM944 208h1v1h-1zM822 329h1v3h-1zM847 274h1v2h-1zM1076 256h1v1h-1zM1079 260h1v2h-1zM826 318h1v2h-1zM871 231h1v2h-1zM880 219h1v1h-1zM883 214h1v2h-1zM778 417h1v2h-1zM902 197h1v1h-1zM867 238h1v2h-1zM834 299h1v2h-1zM802 383h1v2h-1zM863 245h1v2h-1zM886 210h1v2h-1zM563 470h1v1h-1zM818 341h1v2h-1zM1093 280h1v2h-1zM1083 266h1v2h-1zM1096 286h1v1h-1zM798 391h1v1h-1zM951 215h1v1h-1zM678 465h1v1h-1zM1097 287h1v1h-1zM1108 296h1v1h-1zM781 414h1v1h-1zM838 291h1v2h-1zM1130 319h1v2h-1zM928 194h1v1h-1zM817 343h1v3h-1zM851 266h1v2h-1zM1155 340h1v1h-1zM929 195h1v1h-1zM842 284h1v2h-1zM947 212h1v1h-1zM1122 311h1v1h-1zM1052 234h1v1h-1zM1063 243h1v1h-1zM874 227h1v1h-1zM1123 312h1v1h-1zM1064 244h1v1h-1zM833 301h1v2h-1zM1129 318h1v1h-1zM1070 250h1v1h-1zM946 210h1v2h-1zM559 467h1v1h-1zM1071 251h1v1h-1zM1136 326h1v1h-1zM1115 303h1v1h-1zM1077 257h1v2h-1zM889 207h1v1h-1zM1104 293h1v1h-1zM1107 295h1v1h-1zM1078 259h1v1h-1zM88 450h1v1h-1zM536 451h1v1h-1zM1151 337h1v1h-1zM92 447h1v1h-1zM1152 338h1v1h-1zM841 286h1v2h-1zM676 467h1v1h-1zM939 203h1v1h-1zM1114 302h1v1h-1zM785 410h1v1h-1zM788 406h1v1h-1zM1103 292h1v1h-1zM837 293h1v2h-1zM1081 263h1v2h-1zM551 462h1v1h-1zM792 399h1v1h-1zM795 395h1v1h-1zM877 223h1v1h-1zM901 198h1v1h-1zM1099 289h1v1h-1zM1044 228h1v1h-1zM832 303h1v2h-1zM1147 334h1v1h-1zM860 250h1v1h-1zM1080 262h1v1h-1zM1059 239h1v1h-1zM780 415h1v1h-1zM1084 268h1v1h-1zM1043 227h1v1h-1zM1098 288h1v1h-1zM856 257h1v1h-1zM1066 246h1v1h-1zM547 459h1v1h-1zM791 400h1v2h-1zM1132 322h1v1h-1zM1143 331h1v1h-1zM930 196h1v1h-1zM888 208h1v1h-1zM1117 305h1v1h-1zM659 479h1v1h-1zM1087 272h1v2h-1zM1109 297h1v1h-1zM1088 274h1v1h-1zM663 476h1v1h-1zM1124 313h1v1h-1zM1131 321h1v1h-1zM675 468h1v1h-1zM1065 245h1v1h-1zM667 473h1v1h-1zM941 205h1v1h-1zM1116 304h1v1h-1zM891 204h1v1h-1zM903 196h1v1h-1zM1072 252h1v1h-1zM895 201h1v1h-1zM948 213h1v1h-1zM787 407h1v1h-1zM940 204h1v1h-1zM560 468h1v1h-1z"/>
<path fill="#ff0000" d="M896 216h3v1h-3zM947 216h15v1h-15zM968 216h7v1h-7zM175 441h3v1h-3zM200 441h3v1h-3zM485 441h2v1h-2zM912 222h3v1h-3zM934 222h2v1h-2zM571 495h3v1h-3zM603 495h3v1h-3zM178 442h2v1h-2zM198 442h2v1h-2zM406 442h2v1h-2zM14 474h2v1h-2zM324 474h3v1h-3zM352 474h2v1h-2zM541 474h2v1h-2zM180 443h6v1h-6zM195 443h3v1h-3zM404 443h2v1h-2zM488 443h2v1h-2zM674 443h2v1h-2zM988 226h3v1h-3zM1032 233h7v1h-7zM1042 233h2v1h-2zM1154 342h2v1h-2zM1187 342h7v1h-7zM1203 342h2v1h-2zM10 476h2v1h-2zM331 476h4v1h-4zM343 476h7v1h-7zM1238 355h2v1h-2zM1227 351h6v1h-6zM1249 364h2v1h-2zM111 426h3v1h-3zM140 426h2v1h-2zM752 426h3v1h-3zM991 227h3v1h-3zM1003 227h2v1h-2zM88 431h3v1h-3zM239 431h4v1h-4zM271 431h8v1h-8zM435 431h4v1h-4zM463 431h3v1h-3zM695 431h4v1h-4zM711 431h4v1h-4zM745 431h2v1h-2zM72 438h3v1h-3zM159 438h3v1h-3zM412 438h2v1h-2zM480 438h2v1h-2zM1158 340h2v1h-2zM1167 340h4v1h-4zM1175 340h8v1h-8zM1196 340h3v1h-3zM75 437h3v1h-3zM156 437h3v1h-3zM208 437h2v1h-2zM414 437h2v1h-2zM478 437h2v1h-2zM681 437h2v1h-2zM1104 356h2v1h-2zM24 466h2v1h-2zM365 466h2v1h-2zM532 466h2v1h-2zM104 428h3v1h-3zM144 428h2v1h-2zM251 428h4v1h-4zM262 428h2v1h-2zM447 428h4v1h-4zM749 428h2v1h-2zM526 462h2v1h-2zM12 475h2v1h-2zM327 475h4v1h-4zM350 475h2v1h-2zM641 475h2v1h-2zM82 434h2v1h-2zM215 434h4v1h-4zM223 434h4v1h-4zM230 434h2v1h-2zM423 434h4v1h-4zM470 434h2v1h-2zM686 434h2v1h-2zM722 434h2v1h-2zM741 434h2v1h-2zM1208 345h3v1h-3zM1156 341h2v1h-2zM1183 341h4v1h-4zM1194 341h2v1h-2zM1199 341h4v1h-4zM534 467h2v1h-2zM40 453h2v1h-2zM380 453h6v1h-6zM503 453h7v1h-7zM373 459h2v1h-2zM520 459h2v1h-2zM107 427h4v1h-4zM142 427h2v1h-2zM255 427h7v1h-7zM55 448h4v1h-4zM622 485h2v1h-2zM316 470h2v1h-2zM583 499h12v1h-12zM918 224h2v1h-2zM923 224h8v1h-8zM984 224h2v1h-2zM1133 361h2v1h-2zM1244 361h2v1h-2zM91 430h11v1h-11zM243 430h4v1h-4zM267 430h4v1h-4zM439 430h4v1h-4zM455 430h8v1h-8zM699 430h12v1h-12zM44 451h3v1h-3zM388 451h3v1h-3zM47 450h4v1h-4zM391 450h3v1h-3zM497 450h2v1h-2zM70 439h2v1h-2zM162 439h2v1h-2zM205 439h2v1h-2zM482 439h2v1h-2zM892 214h2v1h-2zM1106 357h2v1h-2zM524 461h2v1h-2zM1160 339h7v1h-7zM1171 339h4v1h-4zM29 463h2v1h-2zM579 498h4v1h-4zM595 498h3v1h-3zM116 424h3v1h-3zM127 424h4v1h-4zM135 424h3v1h-3zM757 424h2v1h-2zM59 447h2v1h-2zM397 447h2v1h-2zM114 425h2v1h-2zM119 425h8v1h-8zM138 425h2v1h-2zM755 425h2v1h-2zM1123 366h2v1h-2zM1219 350h8v1h-8zM568 494h3v1h-3zM606 494h2v1h-2zM514 456h2v1h-2zM903 218h6v1h-6zM940 218h3v1h-3zM964 218h2v1h-2zM1139 358h2v1h-2zM549 480h2v1h-2zM634 480h2v1h-2zM318 471h2v1h-2zM358 471h2v1h-2zM888 212h2v1h-2zM894 215h2v1h-2zM975 215h2v1h-2zM630 482h2v1h-2zM856 156h2v1h-2zM84 433h2v1h-2zM219 433h4v1h-4zM232 433h3v1h-3zM282 433h2v1h-2zM427 433h4v1h-4zM468 433h2v1h-2zM688 433h3v1h-3zM719 433h3v1h-3zM78 436h2v1h-2zM210 436h2v1h-2zM416 436h3v1h-3zM475 436h3v1h-3zM727 436h12v1h-12zM61 446h2v1h-2zM613 491h2v1h-2zM1236 354h2v1h-2zM1233 352h2v1h-2zM102 429h2v1h-2zM146 429h2v1h-2zM247 429h4v1h-4zM264 429h3v1h-3zM443 429h4v1h-4zM451 429h4v1h-4zM996 229h3v1h-3zM8 477h2v1h-2zM335 477h8v1h-8zM545 477h2v1h-2zM632 481h2v1h-2zM51 449h4v1h-4zM394 449h2v1h-2zM617 488h2v1h-2zM21 468h2v1h-2zM68 440h2v1h-2zM164 440h11v1h-11zM203 440h2v1h-2zM409 440h2v1h-2zM361 469h2v1h-2zM624 484h3v1h-3zM1116 367h7v1h-7zM42 452h2v1h-2zM386 452h2v1h-2zM500 452h3v1h-3zM80 435h2v1h-2zM153 435h2v1h-2zM212 435h3v1h-3zM227 435h3v1h-3zM419 435h4v1h-4zM472 435h3v1h-3zM684 435h2v1h-2zM724 435h3v1h-3zM739 435h2v1h-2zM510 454h2v1h-2zM186 444h2v1h-2zM191 444h4v1h-4zM402 444h2v1h-2zM490 444h2v1h-2zM672 444h2v1h-2zM1152 343h2v1h-2zM1205 343h2v1h-2zM761 421h2v1h-2zM920 225h3v1h-3zM986 225h2v1h-2zM890 213h2v1h-2zM994 228h2v1h-2zM999 228h4v1h-4zM561 489h2v1h-2zM322 473h2v1h-2zM354 473h2v1h-2zM529 464h2v1h-2zM516 457h2v1h-2zM1128 363h3v1h-3zM1213 347h2v1h-2zM608 493h3v1h-3zM899 217h4v1h-4zM943 217h4v1h-4zM962 217h2v1h-2zM966 217h2v1h-2zM557 486h2v1h-2zM620 486h2v1h-2zM553 483h2v1h-2zM627 483h3v1h-3zM858 157h2v1h-2zM1131 362h2v1h-2zM1246 362h2v1h-2zM1216 349h3v1h-3zM915 223h3v1h-3zM931 223h3v1h-3zM574 496h2v1h-2zM600 496h3v1h-3zM518 458h2v1h-2zM188 445h3v1h-3zM400 445h2v1h-2zM1027 231h3v1h-3zM86 432h2v1h-2zM235 432h4v1h-4zM279 432h3v1h-3zM431 432h4v1h-4zM466 432h2v1h-2zM691 432h4v1h-4zM715 432h4v1h-4zM320 472h2v1h-2zM356 472h2v1h-2zM4 479h2v1h-2zM512 455h2v1h-2zM840 169h3v1h-3zM131 423h4v1h-4zM1125 365h2v1h-2zM1136 359h3v1h-3zM565 492h2v1h-2zM611 492h2v1h-2zM26 465h2v1h-2zM937 220h2v1h-2zM1013 220h2v1h-2zM1024 230h3v1h-3zM33 460h2v1h-2zM522 460h2v1h-2zM843 168h2v1h-2zM576 497h3v1h-3zM598 497h2v1h-2zM6 478h2v1h-2zM637 478h2v1h-2zM1030 232h2v1h-2zM1039 232h3v1h-3zM1211 346h2v1h-2zM845 167h2v1h-2zM826 205h1v5h-1zM291 441h1v1h-1zM823 220h1v6h-1zM310 463h1v2h-1zM1012 219h1v1h-1zM800 336h1v4h-1zM827 200h1v5h-1zM292 442h1v1h-1zM639 477h1v1h-1zM787 375h1v3h-1zM813 271h1v5h-1zM375 458h1v1h-1zM799 340h1v3h-1zM1085 314h1v3h-1zM880 194h1v3h-1zM1074 288h1v2h-1zM1093 337h1v3h-1zM817 252h1v5h-1zM779 396h1v3h-1zM791 362h1v3h-1zM1086 317h1v3h-1zM821 231h1v6h-1zM1049 240h1v1h-1zM807 303h1v6h-1zM804 320h1v4h-1zM1070 280h1v2h-1zM795 351h1v3h-1zM298 448h1v2h-1zM567 493h1v1h-1zM1060 255h1v2h-1zM782 389h1v2h-1zM667 449h1v1h-1zM808 298h1v5h-1zM1091 331h1v3h-1zM886 208h1v2h-1zM1081 304h1v2h-1zM1071 282h1v2h-1zM548 479h1v1h-1zM655 462h1v1h-1zM812 276h1v5h-1zM786 378h1v3h-1zM887 210h1v2h-1zM839 170h1v2h-1zM1148 349h1v1h-1zM872 176h1v2h-1zM1114 364h1v2h-1zM854 158h1v2h-1zM830 187h1v4h-1zM883 202h1v2h-1zM537 469h1v1h-1zM499 451h1v1h-1zM643 474h1v1h-1zM835 177h1v1h-1zM771 412h1v1h-1zM838 172h1v2h-1zM774 408h1v1h-1zM825 210h1v5h-1zM563 490h1v1h-1zM155 436h1v1h-1zM879 192h1v2h-1zM1092 334h1v3h-1zM1064 263h1v3h-1zM678 440h1v1h-1zM829 191h1v4h-1zM544 476h1v1h-1zM302 453h1v2h-1zM1240 356h1v1h-1zM636 479h1v1h-1zM484 440h1v1h-1zM803 324h1v4h-1zM1059 253h1v2h-1zM816 257h1v5h-1zM794 354h1v2h-1zM790 365h1v4h-1zM662 455h1v1h-1zM1088 323h1v3h-1zM798 343h1v2h-1zM1235 353h1v1h-1zM309 462h1v1h-1zM802 328h1v4h-1zM396 448h1v1h-1zM1102 354h1v1h-1zM19 470h1v1h-1zM1113 363h1v1h-1zM849 164h1v1h-1zM659 458h1v1h-1zM1066 269h1v3h-1zM31 462h1v1h-1zM23 467h1v1h-1zM650 467h1v1h-1zM35 459h1v1h-1zM820 237h1v5h-1zM16 473h1v1h-1zM878 189h1v3h-1zM1073 286h1v2h-1zM824 215h1v5h-1zM1084 311h1v3h-1zM828 195h1v5h-1zM615 490h1v1h-1zM647 470h1v1h-1zM811 281h1v6h-1zM769 414h1v1h-1zM494 447h1v1h-1zM149 431h1v1h-1zM1007 224h1v1h-1zM1018 224h1v1h-1zM815 262h1v5h-1zM377 456h1v1h-1zM66 442h1v1h-1zM286 436h1v1h-1zM766 417h1v1h-1zM885 206h1v2h-1zM861 159h1v2h-1zM495 448h1v1h-1zM150 432h1v1h-1zM778 399h1v2h-1zM882 199h1v3h-1zM1095 343h1v3h-1zM1151 344h1v2h-1zM1080 301h1v3h-1zM528 463h1v1h-1zM1257 371h1v1h-1zM38 455h1v2h-1zM666 450h1v2h-1zM312 466h1v1h-1zM364 467h1v1h-1zM540 473h1v1h-1zM939 219h1v1h-1zM1094 340h1v3h-1zM789 369h1v3h-1zM543 475h1v1h-1zM293 443h1v1h-1zM1127 364h1v1h-1zM781 391h1v2h-1zM793 356h1v3h-1zM1264 378h1v1h-1zM1069 278h1v2h-1zM853 160h1v1h-1zM1242 358h1v2h-1zM1072 284h1v2h-1zM300 451h1v1h-1zM980 219h1v1h-1zM619 487h1v1h-1zM654 463h1v1h-1zM301 452h1v1h-1zM311 465h1v1h-1zM837 174h1v2h-1zM819 242h1v5h-1zM669 447h1v1h-1zM805 314h1v6h-1zM1079 299h1v2h-1zM1087 320h1v3h-1zM539 472h1v1h-1zM806 309h1v5h-1zM832 181h1v2h-1zM810 287h1v5h-1zM764 419h1v1h-1zM979 218h1v1h-1zM1065 266h1v3h-1zM814 267h1v4h-1zM797 345h1v3h-1zM777 401h1v3h-1zM801 332h1v4h-1zM1241 357h1v1h-1zM1147 350h1v1h-1zM863 163h1v2h-1zM661 456h1v1h-1zM780 393h1v3h-1zM1051 242h1v1h-1zM1108 358h1v1h-1zM411 439h1v1h-1zM867 169h1v2h-1zM773 409h1v2h-1zM1142 356h1v1h-1zM18 471h1v1h-1zM860 158h1v1h-1zM680 438h1v1h-1zM1115 366h1v1h-1zM748 429h1v1h-1zM649 468h1v1h-1zM368 464h1v1h-1zM1009 222h1v1h-1zM809 292h1v6h-1zM664 453h1v1h-1zM1050 241h1v1h-1zM877 187h1v2h-1zM1150 346h1v1h-1zM1267 382h1v1h-1zM1062 259h1v2h-1zM303 455h1v1h-1zM983 223h1v1h-1zM831 183h1v4h-1zM1083 309h1v2h-1zM851 162h1v1h-1zM862 161h1v2h-1zM1252 366h1v1h-1zM1096 346h1v2h-1zM1068 275h1v3h-1zM304 456h1v1h-1zM818 247h1v5h-1zM652 465h1v1h-1zM1089 326h1v3h-1zM399 446h1v1h-1zM792 359h1v3h-1zM151 433h1v1h-1zM866 168h1v1h-1zM1020 226h1v1h-1zM37 457h1v1h-1zM884 204h1v2h-1zM1097 348h1v1h-1zM822 226h1v5h-1zM538 470h1v2h-1zM152 434h1v1h-1zM1103 355h1v1h-1zM1259 373h1v1h-1zM1266 380h1v2h-1zM564 491h1v1h-1zM1146 351h1v2h-1zM314 468h1v1h-1zM1251 365h1v1h-1zM379 454h1v1h-1zM768 415h1v1h-1zM876 184h1v3h-1zM640 476h1v1h-1zM982 221h1v2h-1zM784 384h1v3h-1zM909 219h1v1h-1zM644 473h1v1h-1zM1054 246h1v1h-1zM910 220h1v1h-1zM1258 372h1v1h-1zM870 173h1v2h-1zM1078 296h1v3h-1zM288 438h1v1h-1zM656 461h1v1h-1zM1046 236h1v2h-1zM1075 290h1v2h-1zM295 445h1v1h-1zM671 445h1v1h-1zM1243 360h1v1h-1zM865 166h1v2h-1zM1019 225h1v1h-1zM1067 272h1v3h-1zM287 437h1v1h-1zM1053 244h1v2h-1zM834 178h1v2h-1zM306 458h1v2h-1zM370 462h1v1h-1zM559 487h1v1h-1zM496 449h1v1h-1zM759 423h1v1h-1zM1082 306h1v3h-1zM1141 357h1v1h-1zM1099 351h1v1h-1zM743 433h1v1h-1zM560 488h1v1h-1zM679 439h1v1h-1zM63 445h1v1h-1zM763 420h1v1h-1zM363 468h1v1h-1zM1100 352h1v1h-1zM313 467h1v1h-1zM294 444h1v1h-1zM1008 223h1v1h-1zM1149 347h1v2h-1zM663 454h1v1h-1zM1265 379h1v1h-1zM1063 261h1v2h-1zM981 220h1v1h-1zM28 464h1v1h-1zM1144 354h1v1h-1zM850 163h1v1h-1zM775 406h1v2h-1zM864 165h1v1h-1zM1057 250h1v2h-1zM651 466h1v1h-1zM1098 349h1v2h-1zM1011 220h1v1h-1zM747 430h1v1h-1zM770 413h1v1h-1zM1110 360h1v1h-1zM751 427h1v1h-1zM1077 294h1v2h-1zM1045 235h1v1h-1zM20 469h1v1h-1zM555 484h1v1h-1zM32 461h1v1h-1zM1052 243h1v1h-1zM875 182h1v2h-1zM1109 359h1v1h-1zM1254 368h1v1h-1zM868 171h1v1h-1zM658 459h1v1h-1zM1056 249h1v1h-1zM305 457h1v1h-1zM616 489h1v1h-1zM487 442h1v1h-1zM677 441h1v1h-1zM1044 234h1v1h-1zM551 481h1v1h-1zM646 471h1v1h-1zM1006 225h1v1h-1zM207 438h1v1h-1zM1268 383h1v1h-1zM1055 247h1v2h-1zM765 418h1v1h-1zM670 446h1v1h-1zM1015 221h1v1h-1zM39 454h1v1h-1zM1253 367h1v1h-1zM833 180h1v1h-1zM874 180h1v2h-1zM369 463h1v1h-1zM665 452h1v1h-1zM1021 227h1v1h-1zM848 165h1v1h-1zM289 439h1v1h-1zM776 404h1v2h-1zM911 221h1v1h-1zM785 381h1v3h-1zM1022 228h1v1h-1zM881 197h1v2h-1zM290 440h1v1h-1zM871 175h1v1h-1zM1260 374h1v1h-1zM408 441h1v1h-1zM1076 292h1v2h-1zM1261 375h1v1h-1zM315 469h1v1h-1zM65 443h1v1h-1zM653 464h1v1h-1zM977 216h1v1h-1zM372 460h1v1h-1zM1143 355h1v1h-1zM836 176h1v1h-1zM788 372h1v3h-1zM376 457h1v1h-1zM1058 252h1v1h-1zM307 460h1v1h-1zM547 478h1v1h-1zM308 461h1v1h-1zM536 468h1v1h-1zM1207 344h1v1h-1zM1215 348h1v1h-1zM1248 363h1v1h-1zM1101 353h1v1h-1zM852 161h1v1h-1zM1047 238h1v1h-1zM1135 360h1v1h-1zM296 446h1v1h-1zM1048 239h1v1h-1zM1061 257h1v2h-1zM297 447h1v1h-1zM772 411h1v1h-1zM796 348h1v3h-1zM1010 221h1v1h-1zM1090 329h1v2h-1zM668 448h1v1h-1zM873 178h1v2h-1zM648 469h1v1h-1zM367 465h1v1h-1zM1112 362h1v1h-1zM855 157h1v1h-1zM783 387h1v2h-1zM360 470h1v1h-1zM531 465h1v1h-1zM660 457h1v1h-1zM556 485h1v1h-1zM1016 222h1v1h-1zM657 460h1v1h-1zM148 430h1v1h-1zM683 436h1v1h-1zM1017 223h1v1h-1zM285 435h1v1h-1zM847 166h1v1h-1zM1255 369h1v1h-1zM869 172h1v1h-1zM1111 361h1v1h-1zM676 442h1v1h-1zM1256 370h1v1h-1zM645 472h1v1h-1zM552 482h1v1h-1zM378 455h1v1h-1zM767 416h1v1h-1zM1005 226h1v1h-1zM744 432h1v1h-1zM64 444h1v1h-1zM1262 376h1v1h-1zM936 221h1v1h-1zM371 461h1v1h-1zM760 422h1v1h-1zM978 217h1v1h-1zM1263 377h1v1h-1zM36 458h1v1h-1zM299 450h1v1h-1zM17 472h1v1h-1zM492 445h1v1h-1zM284 434h1v1h-1zM493 446h1v1h-1zM1145 353h1v1h-1zM67 441h1v1h-1zM1023 229h1v1h-1z"/>
<path fill="#ffa500" d="M378 442h2v1h-2zM383 442h3v1h-3zM392 442h3v1h-3zM397 442h2v1h-2zM720 442h3v1h-3zM727 442h2v1h-2zM184 433h7v1h-7zM194 433h2v1h-2zM216 433h2v1h-2zM7 462h4v1h-4zM355 462h2v1h-2zM516 462h2v1h-2zM101 423h2v1h-2zM678 423h2v1h-2zM685 423h2v1h-2zM1123 344h4v1h-4zM347 465h3v1h-3zM500 465h3v1h-3zM507 465h4v1h-4zM88 427h2v1h-2zM115 427h7v1h-7zM434 427h2v1h-2zM439 427h6v1h-6zM11 461h4v1h-4zM518 461h2v1h-2zM521 461h2v1h-2zM637 461h2v1h-2zM1195 352h3v1h-3zM1220 352h9v1h-9zM80 424h5v1h-5zM93 424h2v1h-2zM125 424h2v1h-2zM137 424h2v1h-2zM676 424h2v1h-2zM380 441h3v1h-3zM386 441h2v1h-2zM390 441h2v1h-2zM464 441h7v1h-7zM718 441h2v1h-2zM729 441h2v1h-2zM28 454h3v1h-3zM191 434h3v1h-3zM218 434h2v1h-2zM319 487h6v1h-6zM21 459h2v1h-2zM157 459h2v1h-2zM199 431h4v1h-4zM207 431h7v1h-7zM697 431h2v1h-2zM285 455h2v1h-2zM1160 325h5v1h-5zM40 440h2v1h-2zM388 440h2v1h-2zM471 440h2v1h-2zM716 440h2v1h-2zM220 435h5v1h-5zM452 435h3v1h-3zM96 422h5v1h-5zM128 422h2v1h-2zM680 422h5v1h-5zM956 233h3v1h-3zM962 233h2v1h-2zM988 233h5v1h-5zM47 437h4v1h-4zM54 437h2v1h-2zM230 437h2v1h-2zM458 437h2v1h-2zM704 437h7v1h-7zM251 417h6v1h-6zM31 453h2v1h-2zM282 453h2v1h-2zM477 445h2v1h-2zM1116 345h7v1h-7zM1127 345h8v1h-8zM586 488h2v1h-2zM589 488h2v1h-2zM85 425h2v1h-2zM104 425h7v1h-7zM416 425h15v1h-15zM674 425h2v1h-2zM688 425h2v1h-2zM1192 353h3v1h-3zM1229 353h2v1h-2zM369 449h2v1h-2zM649 449h2v1h-2zM1135 346h2v1h-2zM376 443h2v1h-2zM395 443h2v1h-2zM723 443h4v1h-4zM559 510h4v1h-4zM44 438h3v1h-3zM178 438h2v1h-2zM228 438h2v1h-2zM711 438h3v1h-3zM733 438h2v1h-2zM1140 350h3v1h-3zM1184 350h5v1h-5zM1200 350h2v1h-2zM1217 350h2v1h-2zM1143 349h2v1h-2zM1202 349h2v1h-2zM1207 349h2v1h-2zM584 489h2v1h-2zM603 489h4v1h-4zM611 489h2v1h-2zM866 191h2v1h-2zM871 191h2v1h-2zM868 192h3v1h-3zM758 400h2v1h-2zM763 400h4v1h-4zM309 482h2v1h-2zM580 491h2v1h-2zM130 421h2v1h-2zM133 421h2v1h-2zM4 463h3v1h-3zM352 463h3v1h-3zM497 463h2v1h-2zM514 463h2v1h-2zM72 430h2v1h-2zM760 399h3v1h-3zM767 399h3v1h-3zM1260 399h5v1h-5zM924 207h3v1h-3zM931 207h2v1h-2zM927 208h4v1h-4zM756 401h2v1h-2zM51 436h3v1h-3zM225 436h2v1h-2zM405 436h2v1h-2zM455 436h3v1h-3zM90 426h2v1h-2zM111 426h4v1h-4zM122 426h2v1h-2zM431 426h3v1h-3zM672 426h2v1h-2zM690 426h2v1h-2zM895 239h2v1h-2zM25 456h2v1h-2zM312 484h2v1h-2zM1189 351h2v1h-2zM1198 351h2v1h-2zM196 432h3v1h-3zM203 432h4v1h-4zM214 432h2v1h-2zM1013 212h2v1h-2zM74 429h2v1h-2zM436 428h3v1h-3zM445 428h2v1h-2zM693 428h2v1h-2zM582 490h2v1h-2zM592 490h11v1h-11zM607 490h4v1h-4zM344 464h3v1h-3zM350 464h2v1h-2zM511 464h3v1h-3zM856 203h2v1h-2zM858 202h2v1h-2zM937 202h2v1h-2zM15 460h6v1h-6zM161 460h2v1h-2zM1089 384h2v1h-2zM341 466h2v1h-2zM503 466h4v1h-4zM892 238h3v1h-3zM481 448h2v1h-2zM939 201h2v1h-2zM42 439h2v1h-2zM176 439h2v1h-2zM401 439h2v1h-2zM461 439h2v1h-2zM714 439h2v1h-2zM1145 348h2v1h-2zM1181 348h2v1h-2zM1204 348h3v1h-3zM563 509h2v1h-2zM770 398h2v1h-2zM316 486h3v1h-3zM280 452h2v1h-2zM365 452h2v1h-2zM248 418h3v1h-3zM257 418h2v1h-2zM959 234h3v1h-3zM1032 247h3v1h-3zM573 498h2v1h-2zM824 106h3v1h-3zM621 479h2v1h-2zM556 511h3v1h-3zM1095 392h2v1h-2zM1035 246h2v1h-2zM754 402h2v1h-2zM1257 397h2v1h-2zM314 485h2v1h-2zM1253 394h2v1h-2zM302 476h2v1h-2zM864 190h2v1h-2zM300 475h2v1h-2zM752 403h2v1h-2zM817 140h1v6h-1zM1070 322h1v4h-1zM331 477h1v1h-1zM409 433h1v1h-1zM1239 365h1v2h-1zM1056 278h1v3h-1zM136 423h1v1h-1zM794 278h1v5h-1zM1157 332h1v2h-1zM526 465h1v1h-1zM1107 366h1v3h-1zM788 319h1v8h-1zM836 131h1v5h-1zM343 465h1v1h-1zM272 441h1v1h-1zM1008 216h1v2h-1zM798 263h1v3h-1zM547 500h1v2h-1zM1038 243h1v2h-1zM797 266h1v2h-1zM362 455h1v2h-1zM1079 360h1v5h-1zM480 447h1v1h-1zM897 240h1v2h-1zM917 218h1v2h-1zM1003 227h1v2h-1zM779 369h1v5h-1zM912 225h1v1h-1zM832 115h1v3h-1zM849 203h1v3h-1zM977 210h1v2h-1zM842 165h1v8h-1zM67 435h1v2h-1zM835 127h1v4h-1zM980 216h1v2h-1zM811 177h1v6h-1zM36 447h1v1h-1zM801 250h1v6h-1zM260 420h1v2h-1zM816 146h1v6h-1zM1156 334h1v2h-1zM1018 219h1v2h-1zM149 444h1v3h-1zM1075 342h1v4h-1zM738 431h1v2h-1zM987 231h1v2h-1zM783 351h1v4h-1zM885 221h1v2h-1zM1019 221h1v3h-1zM539 485h1v3h-1zM782 355h1v5h-1zM1105 373h1v3h-1zM1076 346h1v4h-1zM882 214h1v2h-1zM819 128h1v6h-1zM1152 341h1v1h-1zM787 327h1v6h-1zM1022 229h1v3h-1zM889 231h1v2h-1zM746 412h1v2h-1zM1114 349h1v3h-1zM475 443h1v1h-1zM892 237h1v1h-1zM1147 347h1v1h-1zM796 268h1v4h-1zM476 444h1v1h-1zM631 467h1v2h-1zM1174 337h1v2h-1zM487 453h1v1h-1zM946 213h1v2h-1zM1051 264h1v4h-1zM949 218h1v1h-1zM1069 318h1v4h-1zM1002 229h1v2h-1zM950 219h1v2h-1zM1231 354h1v1h-1zM1055 276h1v2h-1zM66 437h1v1h-1zM778 374h1v6h-1zM35 448h1v2h-1zM998 237h1v2h-1zM863 192h1v3h-1zM1061 291h1v3h-1zM528 467h1v1h-1zM61 443h1v1h-1zM1155 336h1v2h-1zM569 503h1v2h-1zM805 221h1v9h-1zM972 220h1v2h-1zM809 190h1v6h-1zM781 360h1v4h-1zM618 482h1v2h-1zM792 289h1v6h-1zM1078 355h1v5h-1zM245 421h1v1h-1zM903 240h1v2h-1zM1050 260h1v4h-1zM847 196h1v4h-1zM549 503h1v1h-1zM635 463h1v1h-1zM818 134h1v6h-1zM942 204h1v2h-1zM550 504h1v2h-1zM791 295h1v8h-1zM240 427h1v1h-1zM1166 327h1v1h-1zM1112 354h1v3h-1zM850 206h1v3h-1zM823 108h1v5h-1zM841 157h1v8h-1zM630 469h1v1h-1zM1001 231h1v2h-1zM330 478h1v2h-1zM777 380h1v5h-1zM742 421h1v3h-1zM922 209h1v2h-1zM232 436h1v1h-1zM986 229h1v2h-1zM997 239h1v2h-1zM1017 216h1v3h-1zM182 435h1v1h-1zM1241 369h1v3h-1zM148 442h1v2h-1zM642 456h1v2h-1zM57 439h1v2h-1zM844 181h1v7h-1zM884 218h1v3h-1zM1010 213h1v2h-1zM538 483h1v2h-1zM971 222h1v1h-1zM1103 378h1v2h-1zM1248 386h1v2h-1zM804 230h1v8h-1zM808 196h1v8h-1zM337 471h1v1h-1zM952 222h1v2h-1zM803 238h1v6h-1zM807 204h1v9h-1zM873 193h1v4h-1zM833 118h1v4h-1zM629 470h1v2h-1zM790 303h1v8h-1zM410 432h1v1h-1zM1233 356h1v1h-1zM664 434h1v1h-1zM784 345h1v6h-1zM876 204h1v2h-1zM329 480h1v1h-1zM1095 391h1v1h-1zM530 470h1v1h-1zM141 428h1v2h-1zM165 457h1v1h-1zM1060 288h1v3h-1zM144 434h1v2h-1zM741 424h1v3h-1zM531 471h1v2h-1zM740 427h1v2h-1zM921 211h1v1h-1zM993 235h1v2h-1zM1077 350h1v5h-1zM551 506h1v1h-1zM846 192h1v4h-1zM944 208h1v3h-1zM941 202h1v2h-1zM1005 222h1v2h-1zM812 170h1v7h-1zM802 244h1v6h-1zM853 210h1v2h-1zM785 339h1v6h-1zM668 430h1v1h-1zM789 311h1v8h-1zM1073 334h1v4h-1zM1240 367h1v2h-1zM59 442h1v2h-1zM751 404h1v2h-1zM268 436h1v1h-1zM839 145h1v5h-1zM1246 382h1v2h-1zM775 389h1v2h-1zM290 460h1v1h-1zM293 464h1v2h-1zM367 451h1v1h-1zM1247 384h1v2h-1zM1045 248h1v2h-1zM1037 245h1v1h-1zM294 466h1v1h-1zM1066 307h1v4h-1zM916 220h1v2h-1zM731 440h1v1h-1zM852 212h1v2h-1zM1083 373h1v2h-1zM142 430h1v2h-1zM875 200h1v4h-1zM981 218h1v2h-1zM127 423h1v1h-1zM814 158h1v6h-1zM1151 342h1v1h-1zM150 447h1v2h-1zM619 481h1v1h-1zM774 391h1v3h-1zM1025 237h1v2h-1zM483 449h1v1h-1zM554 509h1v1h-1zM1170 332h1v1h-1zM484 450h1v1h-1zM1171 333h1v2h-1zM806 213h1v8h-1zM810 183h1v7h-1zM524 463h1v1h-1zM1058 283h1v3h-1zM403 438h1v1h-1zM270 438h1v2h-1zM1046 250h1v2h-1zM292 463h1v1h-1zM271 440h1v1h-1zM295 467h1v2h-1zM1047 252h1v2h-1zM1104 376h1v2h-1zM244 422h1v1h-1zM296 469h1v1h-1zM634 464h1v1h-1zM479 446h1v1h-1zM103 424h1v1h-1zM1100 384h1v2h-1zM1084 375h1v2h-1zM795 272h1v6h-1zM1085 377h1v2h-1zM851 209h1v3h-1zM236 431h1v1h-1zM982 220h1v2h-1zM979 214h1v2h-1zM262 424h1v2h-1zM263 426h1v2h-1zM325 485h1v2h-1zM862 195h1v2h-1zM1009 215h1v1h-1zM1020 224h1v3h-1zM588 487h1v1h-1zM151 449h1v3h-1zM840 150h1v7h-1zM799 261h1v2h-1zM1027 241h1v2h-1zM1024 234h1v3h-1zM336 472h1v1h-1zM414 427h1v2h-1zM474 442h1v1h-1zM891 235h1v2h-1zM1172 335h1v1h-1zM1053 271h1v2h-1zM1173 336h1v1h-1zM486 452h1v1h-1zM1099 386h1v2h-1zM648 450h1v1h-1zM910 227h1v1h-1zM822 113h1v4h-1zM95 423h1v1h-1zM669 429h1v1h-1zM843 173h1v8h-1zM1057 281h1v2h-1zM906 233h1v3h-1zM527 466h1v1h-1zM660 438h1v1h-1zM1063 297h1v3h-1zM273 442h1v2h-1zM548 502h1v1h-1zM898 242h1v2h-1zM1004 224h1v3h-1zM492 458h1v1h-1zM732 439h1v1h-1zM359 459h1v1h-1zM1098 388h1v2h-1zM667 431h1v1h-1zM793 283h1v6h-1zM261 422h1v2h-1zM375 444h1v1h-1zM974 213h1v4h-1zM1106 369h1v4h-1zM1243 374h1v3h-1zM905 236h1v2h-1zM567 506h1v1h-1zM540 488h1v2h-1zM305 478h1v1h-1zM173 443h1v2h-1zM1052 268h1v3h-1zM499 464h1v1h-1zM238 429h1v1h-1zM951 221h1v1h-1zM233 435h1v1h-1zM169 450h1v2h-1zM643 455h1v1h-1zM815 152h1v6h-1zM146 438h1v2h-1zM973 217h1v3h-1zM529 468h1v2h-1zM878 207h1v2h-1zM1062 294h1v3h-1zM624 477h1v1h-1zM274 444h1v1h-1zM820 122h1v6h-1zM180 437h1v1h-1zM400 440h1v1h-1zM995 239h1v2h-1zM275 445h1v2h-1zM904 238h1v2h-1zM899 244h1v2h-1zM1113 352h1v2h-1zM943 206h1v2h-1zM494 460h1v1h-1zM965 230h1v2h-1zM411 431h1v1h-1zM627 473h1v1h-1zM647 451h1v1h-1zM408 434h1v1h-1zM163 459h1v1h-1zM800 256h1v5h-1zM243 423h1v1h-1zM968 226h1v1h-1zM307 480h1v1h-1zM827 107h1v1h-1zM654 444h1v2h-1zM786 333h1v6h-1zM1177 341h1v2h-1zM834 122h1v5h-1zM1159 327h1v2h-1zM92 425h1v1h-1zM877 206h1v1h-1zM145 436h1v2h-1zM983 222h1v2h-1zM368 450h1v1h-1zM661 437h1v1h-1zM288 457h1v1h-1zM340 467h1v1h-1zM552 507h1v1h-1zM360 458h1v1h-1zM909 228h1v1h-1zM572 499h1v1h-1zM1214 347h1v1h-1zM591 489h1v1h-1zM60 444h1v1h-1zM748 409h1v1h-1zM1250 390h1v1h-1zM1049 256h1v4h-1zM828 108h1v1h-1zM488 454h1v1h-1zM71 431h1v1h-1zM579 492h1v1h-1zM829 109h1v2h-1zM1080 365h1v4h-1zM489 455h1v1h-1zM872 192h1v1h-1zM1232 355h1v1h-1zM1087 381h1v2h-1zM374 445h1v1h-1zM1000 233h1v2h-1zM532 473h1v1h-1zM143 432h1v2h-1zM821 117h1v5h-1zM533 474h1v1h-1zM1209 348h1v1h-1zM566 507h1v1h-1zM153 454h1v1h-1zM181 436h1v1h-1zM79 425h1v1h-1zM886 223h1v3h-1zM970 223h1v2h-1zM1148 346h1v1h-1zM242 424h1v2h-1zM616 485h1v1h-1zM1026 239h1v2h-1zM824 105h1v1h-1zM824 107h1v1h-1zM936 203h1v1h-1zM901 244h1v2h-1zM237 430h1v1h-1zM578 493h1v2h-1zM743 418h1v3h-1zM999 235h1v2h-1zM58 441h1v1h-1zM623 478h1v1h-1zM701 434h1v1h-1zM164 458h1v1h-1zM1249 388h1v2h-1zM920 212h1v2h-1zM1252 393h1v1h-1zM1048 254h1v2h-1zM297 470h1v2h-1zM415 426h1v1h-1zM848 200h1v3h-1zM490 456h1v1h-1zM241 426h1v1h-1zM334 474h1v1h-1zM964 232h1v1h-1zM491 457h1v1h-1zM1139 349h1v1h-1zM1234 357h1v2h-1zM1086 379h1v2h-1zM646 452h1v1h-1zM1109 361h1v2h-1zM407 435h1v1h-1zM923 208h1v1h-1zM535 477h1v1h-1zM641 458h1v1h-1zM696 430h1v1h-1zM919 214h1v2h-1zM542 492h1v2h-1zM1068 315h1v3h-1zM915 222h1v1h-1zM38 443h1v2h-1zM1158 329h1v3h-1zM976 208h1v2h-1zM34 450h1v1h-1zM776 385h1v4h-1zM692 427h1v1h-1zM1039 242h1v1h-1zM737 433h1v2h-1zM813 164h1v6h-1zM918 216h1v2h-1zM749 407h1v2h-1zM298 472h1v1h-1zM1150 343h1v2h-1zM174 442h1v1h-1zM299 473h1v2h-1zM745 414h1v2h-1zM37 445h1v2h-1zM447 429h1v1h-1zM1191 352h1v1h-1zM1236 360h1v1h-1zM571 500h1v2h-1zM33 451h1v2h-1zM1074 338h1v4h-1zM1153 339h1v2h-1zM1265 400h1v1h-1zM1115 347h1v2h-1zM636 462h1v1h-1zM541 490h1v2h-1zM736 435h1v2h-1zM555 510h1v1h-1zM70 432h1v1h-1zM1030 245h1v1h-1zM1067 311h1v4h-1zM633 465h1v1h-1zM1175 339h1v1h-1zM1176 340h1v1h-1zM954 227h1v2h-1zM744 416h1v2h-1zM1179 345h1v2h-1zM132 420h1v1h-1zM570 502h1v1h-1zM985 227h1v2h-1zM565 508h1v1h-1zM78 426h1v1h-1zM620 480h1v1h-1zM969 225h1v1h-1zM276 447h1v1h-1zM845 188h1v4h-1zM655 443h1v1h-1zM856 204h1v1h-1zM615 486h1v1h-1zM935 204h1v1h-1zM1102 380h1v2h-1zM900 246h1v1h-1zM577 495h1v1h-1zM335 473h1v1h-1zM449 431h1v1h-1zM1072 330h1v4h-1zM450 432h1v2h-1zM168 452h1v2h-1zM1212 345h1v1h-1zM662 436h1v1h-1zM1011 212h1v1h-1zM404 437h1v1h-1zM1242 372h1v2h-1zM327 482h1v2h-1zM27 455h1v1h-1zM1267 402h1v1h-1zM1065 303h1v4h-1zM1259 398h1v1h-1zM659 439h1v1h-1zM1268 403h1v1h-1zM1007 218h1v2h-1zM338 469h1v2h-1zM855 205h1v2h-1zM333 475h1v1h-1zM361 457h1v1h-1zM831 113h1v2h-1zM39 441h1v2h-1zM1178 343h1v2h-1zM953 224h1v3h-1zM1108 363h1v3h-1zM666 432h1v1h-1zM881 212h1v2h-1zM277 448h1v1h-1zM1255 395h1v1h-1zM1021 227h1v2h-1zM152 452h1v2h-1zM278 449h1v2h-1zM888 228h1v3h-1zM1256 396h1v1h-1zM1006 220h1v2h-1zM493 459h1v1h-1zM914 223h1v1h-1zM854 207h1v3h-1zM1091 385h1v1h-1zM1071 326h1v4h-1zM975 210h1v3h-1zM1092 386h1v1h-1zM65 438h1v2h-1zM372 447h1v1h-1zM227 437h1v1h-1zM837 136h1v5h-1zM699 432h1v1h-1zM1154 338h1v1h-1zM1064 300h1v3h-1zM1149 345h1v1h-1zM617 484h1v1h-1zM159 460h1v1h-1zM399 441h1v1h-1zM1251 391h1v2h-1zM614 487h1v1h-1zM830 111h1v2h-1zM1169 330h1v2h-1zM1137 347h1v1h-1zM1138 348h1v1h-1zM63 441h1v1h-1zM1088 383h1v1h-1zM879 209h1v1h-1zM1016 214h1v2h-1zM880 210h1v2h-1zM265 430h1v2h-1zM534 475h1v2h-1zM537 480h1v3h-1zM996 241h1v1h-1zM247 419h1v1h-1zM279 451h1v1h-1zM695 429h1v1h-1zM1042 243h1v2h-1zM154 455h1v2h-1zM291 461h1v2h-1zM887 226h1v2h-1zM780 364h1v5h-1zM495 461h1v1h-1zM172 445h1v1h-1zM632 466h1v1h-1zM496 462h1v1h-1zM1094 389h1v2h-1zM234 433h1v2h-1zM139 425h1v1h-1zM1059 286h1v2h-1zM1012 211h1v1h-1zM639 460h1v1h-1zM160 461h1v1h-1zM24 457h1v1h-1zM308 481h1v1h-1zM339 468h1v1h-1zM1101 382h1v2h-1zM412 430h1v1h-1zM1235 359h1v1h-1zM1219 351h1v1h-1zM1238 363h1v2h-1zM135 422h1v1h-1zM908 229h1v2h-1zM326 484h1v1h-1zM525 464h1v1h-1zM984 224h1v3h-1zM267 434h1v2h-1zM1040 241h1v1h-1zM1245 380h1v2h-1zM264 428h1v2h-1zM739 429h1v2h-1zM536 478h1v2h-1zM838 141h1v4h-1zM1044 246h1v2h-1zM658 440h1v1h-1zM156 458h1v1h-1zM543 494h1v2h-1zM653 446h1v1h-1zM553 508h1v1h-1zM747 410h1v2h-1zM1028 243h1v1h-1zM1029 244h1v1h-1zM460 438h1v1h-1zM1082 371h1v2h-1zM1054 273h1v3h-1zM357 461h1v1h-1zM956 232h1v1h-1zM665 433h1v1h-1zM874 197h1v3h-1zM1215 348h1v1h-1zM520 460h1v1h-1zM907 231h1v2h-1zM373 446h1v1h-1zM284 454h1v1h-1zM1116 346h1v1h-1zM773 394h1v2h-1zM945 211h1v2h-1zM171 446h1v2h-1zM448 430h1v1h-1zM1237 361h1v2h-1zM64 440h1v1h-1zM371 448h1v1h-1zM687 424h1v1h-1zM1244 377h1v3h-1zM1266 401h1v1h-1zM544 496h1v1h-1zM545 497h1v2h-1zM772 396h1v2h-1zM613 488h1v1h-1zM1081 369h1v2h-1zM575 497h1v1h-1zM628 472h1v1h-1zM170 448h1v2h-1zM864 191h1v1h-1zM955 229h1v3h-1zM1180 347h1v1h-1zM978 212h1v2h-1zM328 481h1v1h-1zM645 453h1v1h-1zM166 455h1v2h-1zM702 435h1v1h-1zM1210 347h1v1h-1zM147 440h1v2h-1zM246 420h1v1h-1zM883 216h1v2h-1zM640 459h1v1h-1zM861 197h1v3h-1zM1023 232h1v2h-1zM890 233h1v2h-1zM652 447h1v1h-1zM947 215h1v2h-1zM451 434h1v1h-1zM124 425h1v1h-1zM860 200h1v2h-1zM23 458h1v1h-1zM304 477h1v1h-1zM671 427h1v1h-1zM1160 326h1v1h-1zM1097 390h1v2h-1zM703 436h1v1h-1zM364 453h1v1h-1zM289 458h1v2h-1zM311 483h1v1h-1zM69 433h1v1h-1zM1093 387h1v2h-1zM1096 393h1v1h-1zM994 237h1v2h-1zM306 479h1v1h-1zM1165 326h1v1h-1zM77 427h1v1h-1zM1031 246h1v1h-1zM175 440h1v2h-1zM934 205h1v1h-1zM463 440h1v1h-1zM235 432h1v1h-1zM626 474h1v2h-1zM523 462h1v1h-1zM87 426h1v1h-1zM56 438h1v1h-1zM287 456h1v1h-1zM266 432h1v2h-1zM902 242h1v2h-1zM413 429h1v1h-1zM967 227h1v2h-1zM1111 357h1v2h-1zM239 428h1v1h-1zM332 476h1v1h-1zM140 426h1v2h-1zM1213 346h1v1h-1zM644 454h1v1h-1zM992 234h1v1h-1zM656 442h1v1h-1zM363 454h1v1h-1zM1167 328h1v1h-1zM651 448h1v1h-1zM1168 329h1v1h-1zM473 441h1v1h-1zM358 460h1v1h-1zM913 224h1v1h-1zM1110 359h1v2h-1zM1183 349h1v1h-1zM1015 213h1v1h-1zM663 435h1v1h-1zM1041 242h1v1h-1zM735 437h1v1h-1zM911 226h1v1h-1zM670 428h1v1h-1zM62 442h1v1h-1zM700 433h1v1h-1zM1216 349h1v1h-1zM750 406h1v1h-1zM576 496h1v1h-1zM68 434h1v1h-1zM167 454h1v1h-1zM1211 346h1v1h-1zM568 505h1v1h-1zM183 434h1v1h-1zM269 437h1v1h-1zM1043 245h1v1h-1zM155 457h1v1h-1zM76 428h1v1h-1zM546 499h1v1h-1zM933 206h1v1h-1zM259 419h1v1h-1zM625 476h1v1h-1zM940 200h1v1h-1zM657 441h1v1h-1zM485 451h1v1h-1zM966 229h1v1h-1zM948 217h1v1h-1z"/>
</g>
<g>
<rect x="9" y="202" width="1581" height="2" fill="#ff0000"/>
<path d="M3 200h6v6h-6z M5 202v2h2v-2z" fill="#ff0000" fill-rule="evenodd"/>
<path d="M1590 200h6v6h-6z M1592 202v2h2v-2z" fill="#ff0000" fill-rule="evenodd"/>
<rect x="9" y="273" width="1581" height="2" fill="#ff0000"/>
<path d="M3 271h6v6h-6z M5 273v2h2v-2z" fill="#ff0000" fill-rule="evenodd"/>
<path d="M1590 271h6v6h-6z M1592 273v2h2v-2z" fill="#ff0000" fill-rule="evenodd"/>
<rect x="9" y="340" width="1581" height="2" fill="#00ff00"/>
<path d="M3 338h6v6h-6z M5 340v2h2v-2z" fill="#00ff00" fill-rule="evenodd"/>
<path d="M1590 338h6v6h-6z M1592 340v2h2v-2z" fill="#00ff00" fill-rule="evenodd"/>
<rect x="9" y="422" width="1581" height="2" fill="#0000ff"/>
<path d="M3 420h6v6h-6z M5 422v2h2v-2z" fill="#0000ff" fill-rule="evenodd"/>
<path d="M1590 420h6v6h-6z M1592 422v2h2v-2z" fill="#0000ff" fill-rule="evenodd"/>
<rect x="9" y="504" width="1581" height="2" fill="#0000ff"/>
<path d="M3 502h6v6h-6z M5 504v2h2v-2z" fill="#0000ff" fill-rule="evenodd"/>
<path d="M1590 502h6v6h-6z M1592 504v2h2v-2z" fill="#0000ff" fill-rule="evenodd"/>
</g>
<g clip-path="url(#c2)">
<line x1="5" y1="561.5" x2="1596" y2="561.5" stroke="#c0c0c0" stroke-width="1" stroke-dasharray="3 3"/>
<line x1="5" y1="597.5" x2="1596" y2="597.5" stroke="#c0c0c0" stroke-width="1" stroke-dasharray="3 3"/>
<path fill="#1e90ff" d="M479 585h3v1h-3zM504 585h3v1h-3zM519 585h2v1h-2zM955 585h2v1h-2zM984 585h2v1h-2zM1024 585h2v1h-2zM1102 585h2v1h-2zM1119 585h3v1h-3zM1183 585h2v1h-2zM1218 585h2v1h-2zM5 575h2v1h-2zM48 575h2v1h-2zM58 575h3v1h-3zM103 575h3v1h-3zM119 575h2v1h-2zM168 575h3v1h-3zM185 575h2v1h-2zM195 575h4v1h-4zM208 575h2v1h-2zM393 575h2v1h-2zM705 575h2v1h-2zM839 575h2v1h-2zM860 575h7v1h-7zM871 575h2v1h-2zM904 575h2v1h-2zM975 575h2v1h-2zM1011 575h2v1h-2zM294 595h2v1h-2zM531 595h3v1h-3zM473 584h2v1h-2zM507 584h4v1h-4zM513 584h2v1h-2zM576 584h2v1h-2zM595 584h2v1h-2zM952 584h3v1h-3zM986 584h2v1h-2zM1026 584h2v1h-2zM1104 584h3v1h-3zM1113 584h2v1h-2zM1122 584h2v1h-2zM1176 584h7v1h-7zM46 574h2v1h-2zM56 574h2v1h-2zM75 574h3v1h-3zM89 574h2v1h-2zM100 574h3v1h-3zM112 574h7v1h-7zM121 574h2v1h-2zM171 574h2v1h-2zM384 574h2v1h-2zM867 574h4v1h-4zM906 574h2v1h-2zM236 569h6v1h-6zM372 569h3v1h-3zM404 569h2v1h-2zM420 569h2v1h-2zM440 569h2v1h-2zM620 569h2v1h-2zM152 592h3v1h-3zM264 592h3v1h-3zM525 592h2v1h-2zM1238 592h2v1h-2zM1256 592h3v1h-3zM1262 592h2v1h-2zM1266 592h2v1h-2zM279 588h2v1h-2zM451 588h2v1h-2zM1044 588h2v1h-2zM1058 588h2v1h-2zM136 582h3v1h-3zM163 582h2v1h-2zM226 582h3v1h-3zM470 582h2v1h-2zM580 582h3v1h-3zM586 582h2v1h-2zM590 582h2v1h-2zM607 582h3v1h-3zM891 582h7v1h-7zM948 582h2v1h-2zM1127 582h6v1h-6zM1166 582h2v1h-2zM1171 582h3v1h-3zM1207 582h2v1h-2zM8 577h2v1h-2zM188 577h3v1h-3zM201 577h2v1h-2zM328 577h2v1h-2zM355 577h2v1h-2zM456 577h3v1h-3zM712 577h3v1h-3zM963 577h6v1h-6zM1148 577h2v1h-2zM1157 577h2v1h-2zM476 586h3v1h-3zM482 586h2v1h-2zM516 586h3v1h-3zM1022 586h2v1h-2zM1100 586h2v1h-2zM1116 586h3v1h-3zM1136 586h2v1h-2zM1216 586h2v1h-2zM10 576h2v1h-2zM13 576h2v1h-2zM50 576h2v1h-2zM53 576h2v1h-2zM106 576h2v1h-2zM109 576h2v1h-2zM191 576h4v1h-4zM199 576h2v1h-2zM210 576h2v1h-2zM352 576h3v1h-3zM836 576h3v1h-3zM936 576h5v1h-5zM960 576h3v1h-3zM1000 576h11v1h-11zM1150 576h2v1h-2zM1153 576h2v1h-2zM176 579h3v1h-3zM461 579h2v1h-2zM719 579h2v1h-2zM880 579h2v1h-2zM912 579h6v1h-6zM992 579h3v1h-3zM1034 579h2v1h-2zM663 555h4v1h-4zM675 555h3v1h-3zM816 555h2v1h-2zM67 567h2v1h-2zM379 567h2v1h-2zM408 567h6v1h-6zM735 567h2v1h-2zM155 591h2v1h-2zM267 591h2v1h-2zM488 591h3v1h-3zM1051 591h2v1h-2zM1236 591h2v1h-2zM1264 591h2v1h-2zM219 581h7v1h-7zM332 581h14v1h-14zM464 581h6v1h-6zM588 581h2v1h-2zM600 581h7v1h-7zM610 581h2v1h-2zM723 581h2v1h-2zM876 581h2v1h-2zM884 581h7v1h-7zM946 581h2v1h-2zM1039 581h2v1h-2zM1164 581h2v1h-2zM1196 581h3v1h-3zM1203 581h4v1h-4zM1209 581h2v1h-2zM1224 581h3v1h-3zM139 583h2v1h-2zM160 583h3v1h-3zM511 583h2v1h-2zM578 583h2v1h-2zM583 583h3v1h-3zM592 583h3v1h-3zM597 583h2v1h-2zM898 583h3v1h-3zM950 583h2v1h-2zM981 583h2v1h-2zM1107 583h6v1h-6zM1124 583h3v1h-3zM1168 583h3v1h-3zM1174 583h2v1h-2zM1221 583h2v1h-2zM659 556h4v1h-4zM20 572h3v1h-3zM27 572h3v1h-3zM92 572h3v1h-3zM97 572h2v1h-2zM124 572h3v1h-3zM432 572h5v1h-5zM692 572h2v1h-2zM848 572h2v1h-2zM308 598h7v1h-7zM318 598h2v1h-2zM552 598h7v1h-7zM1068 598h3v1h-3zM1074 598h2v1h-2zM1077 598h2v1h-2zM144 590h3v1h-3zM149 590h2v1h-2zM491 590h2v1h-2zM1048 590h3v1h-3zM1253 590h2v1h-2zM667 554h8v1h-8zM678 554h3v1h-3zM818 554h2v1h-2zM644 561h7v1h-7zM284 593h7v1h-7zM1240 593h2v1h-2zM1259 593h3v1h-3zM234 570h2v1h-2zM242 570h2v1h-2zM251 570h4v1h-4zM362 570h2v1h-2zM365 570h2v1h-2zM422 570h2v1h-2zM427 570h3v1h-3zM442 570h2v1h-2zM622 570h2v1h-2zM627 570h2v1h-2zM689 570h2v1h-2zM696 570h2v1h-2zM729 570h2v1h-2zM756 570h2v1h-2zM23 571h4v1h-4zM81 571h2v1h-2zM95 571h2v1h-2zM127 571h6v1h-6zM232 571h2v1h-2zM244 571h7v1h-7zM255 571h2v1h-2zM360 571h2v1h-2zM369 571h2v1h-2zM424 571h3v1h-3zM430 571h2v1h-2zM437 571h2v1h-2zM617 571h2v1h-2zM624 571h3v1h-3zM694 571h2v1h-2zM698 571h2v1h-2zM790 548h2v1h-2zM179 578h2v1h-2zM213 578h2v1h-2zM349 578h2v1h-2zM459 578h2v1h-2zM715 578h4v1h-4zM918 578h2v1h-2zM933 578h2v1h-2zM969 578h2v1h-2zM1032 578h2v1h-2zM216 580h3v1h-3zM346 580h2v1h-2zM721 580h2v1h-2zM878 580h2v1h-2zM882 580h2v1h-2zM944 580h2v1h-2zM995 580h2v1h-2zM1036 580h3v1h-3zM1199 580h4v1h-4zM1227 580h2v1h-2zM64 568h3v1h-3zM375 568h4v1h-4zM406 568h2v1h-2zM732 568h3v1h-3zM315 599h3v1h-3zM550 599h2v1h-2zM559 599h2v1h-2zM1071 599h3v1h-3zM1083 599h4v1h-4zM799 552h2v1h-2zM823 552h2v1h-2zM642 562h2v1h-2zM276 587h3v1h-3zM1020 587h2v1h-2zM1056 587h2v1h-2zM1138 587h2v1h-2zM766 564h2v1h-2zM769 564h2v1h-2zM656 557h3v1h-3zM796 553h3v1h-3zM820 553h3v1h-3zM299 597h4v1h-4zM306 597h2v1h-2zM1066 597h2v1h-2zM1094 597h3v1h-3zM147 589h2v1h-2zM1046 589h2v1h-2zM1248 589h5v1h-5zM653 559h2v1h-2zM30 573h2v1h-2zM44 573h2v1h-2zM72 573h3v1h-3zM78 573h2v1h-2zM386 573h2v1h-2zM850 573h2v1h-2zM853 573h2v1h-2zM291 594h3v1h-3zM528 594h3v1h-3zM1242 594h2v1h-2zM296 596h3v1h-3zM303 596h3v1h-3zM321 596h2v1h-2zM534 596h2v1h-2zM1064 596h2v1h-2zM1092 596h2v1h-2zM544 600h6v1h-6zM1080 600h3v1h-3zM1087 600h2v1h-2zM780 549h2v1h-2zM788 549h2v1h-2zM414 566h2v1h-2zM632 566h5v1h-5zM39 563h2v1h-2zM640 563h2v1h-2zM637 565h2v1h-2zM760 565h6v1h-6zM771 565h2v1h-2zM785 551h2v1h-2zM651 560h2v1h-2zM749 560h2v1h-2zM831 561h1v2h-1zM956 584h1v1h-1zM368 572h1v1h-1zM1142 584h1v2h-1zM454 582h1v3h-1zM495 594h1v1h-1zM758 568h1v1h-1zM231 573h1v3h-1zM812 548h1v1h-1zM903 577h1v2h-1zM731 569h1v1h-1zM538 600h1v2h-1zM496 595h1v1h-1zM560 598h1v1h-1zM397 570h1v2h-1zM813 549h1v2h-1zM40 562h1v1h-1zM728 571h1v2h-1zM979 580h1v2h-1zM960 577h1v1h-1zM1233 585h1v2h-1zM1214 582h1v2h-1zM701 573h1v1h-1zM1161 576h1v2h-1zM835 572h1v3h-1zM910 576h1v1h-1zM921 575h1v2h-1zM135 578h1v3h-1zM702 574h1v1h-1zM275 586h1v1h-1zM348 579h1v1h-1zM683 559h1v2h-1zM686 565h1v2h-1zM1195 582h1v1h-1zM793 548h1v2h-1zM142 586h1v2h-1zM256 572h1v1h-1zM515 585h1v1h-1zM743 556h1v1h-1zM71 571h1v2h-1zM123 573h1v1h-1zM1062 592h1v2h-1zM257 573h1v2h-1zM827 555h1v1h-1zM1191 584h1v1h-1zM815 553h1v2h-1zM564 590h1v2h-1zM271 584h1v2h-1zM777 554h1v2h-1zM450 585h1v2h-1zM263 588h1v3h-1zM157 588h1v2h-1zM325 588h1v4h-1zM537 598h1v2h-1zM747 558h1v1h-1zM1100 587h1v1h-1zM1115 585h1v1h-1zM453 585h1v3h-1zM978 578h1v2h-1zM990 581h1v1h-1zM571 579h1v2h-1zM1187 582h1v1h-1zM416 565h1v1h-1zM834 568h1v4h-1zM563 592h1v2h-1zM320 597h1v1h-1zM909 574h1v2h-1zM804 548h1v1h-1zM1255 591h1v1h-1zM230 576h1v3h-1zM207 576h1v1h-1zM522 588h1v1h-1zM324 592h1v3h-1zM902 579h1v2h-1zM1141 586h1v2h-1zM682 557h1v2h-1zM1099 588h1v3h-1zM1016 583h1v1h-1zM43 569h1v3h-1zM974 577h1v1h-1zM997 579h1v1h-1zM1061 590h1v2h-1zM727 573h1v3h-1zM830 559h1v2h-1zM203 578h1v1h-1zM184 574h1v1h-1zM833 565h1v3h-1zM36 568h1v1h-1zM70 570h1v1h-1zM328 576h1v1h-1zM328 578h1v1h-1zM959 578h1v2h-1zM1145 580h1v1h-1zM229 579h1v3h-1zM449 583h1v2h-1zM540 604h1v1h-1zM62 571h1v2h-1zM1213 580h1v2h-1zM1163 579h1v2h-1zM852 574h1v1h-1zM1030 580h1v2h-1zM503 586h1v2h-1zM685 563h1v2h-1zM327 579h1v4h-1zM924 571h1v1h-1zM445 573h1v3h-1zM1133 583h1v1h-1zM739 561h1v2h-1zM111 575h1v1h-1zM134 576h1v2h-1zM175 578h1v1h-1zM69 568h1v2h-1zM925 572h1v1h-1zM141 584h1v2h-1zM61 573h1v2h-1zM795 551h1v2h-1zM259 577h1v2h-1zM521 586h1v2h-1zM1190 583h1v1h-1zM875 579h1v2h-1zM270 586h1v2h-1zM776 556h1v3h-1zM498 593h1v1h-1zM396 572h1v2h-1zM1012 576h1v1h-1zM39 564h1v1h-1zM1076 597h1v1h-1zM829 557h1v2h-1zM1235 589h1v2h-1zM757 569h1v1h-1zM452 589h1v1h-1zM205 578h1v1h-1zM539 602h1v2h-1zM932 579h1v1h-1zM1247 590h1v2h-1zM570 581h1v2h-1zM814 551h1v2h-1zM1231 583h1v1h-1zM536 597h1v1h-1zM269 588h1v2h-1zM844 579h1v1h-1zM1042 584h1v2h-1zM1232 584h1v1h-1zM1098 591h1v3h-1zM639 564h1v1h-1zM856 571h1v1h-1zM773 563h1v2h-1zM742 557h1v2h-1zM262 585h1v3h-1zM357 575h1v2h-1zM1015 581h1v2h-1zM684 561h1v2h-1zM400 565h1v1h-1zM703 575h1v1h-1zM232 572h1v1h-1zM566 588h1v1h-1zM4 574h1v1h-1zM524 591h1v1h-1zM35 569h1v2h-1zM99 573h1v1h-1zM704 576h1v1h-1zM1060 589h1v1h-1zM381 568h1v2h-1zM1063 594h1v2h-1zM874 578h1v1h-1zM615 573h1v2h-1zM655 558h1v1h-1zM1159 576h1v1h-1zM942 578h1v1h-1zM562 594h1v2h-1zM931 578h1v1h-1zM326 583h1v5h-1zM448 581h1v2h-1zM156 590h1v1h-1zM943 579h1v1h-1zM920 577h1v1h-1zM1090 598h1v1h-1zM901 581h1v2h-1zM977 576h1v2h-1zM999 577h1v1h-1zM780 548h1v1h-1zM726 576h1v2h-1zM980 582h1v1h-1zM1245 593h1v2h-1zM364 569h1v1h-1zM847 573h1v2h-1zM80 572h1v1h-1zM133 573h1v3h-1zM803 549h1v1h-1zM911 577h1v2h-1zM958 580h1v2h-1zM973 578h1v2h-1zM1014 579h1v2h-1zM1097 594h1v3h-1zM281 589h1v1h-1zM228 583h1v1h-1zM388 572h1v1h-1zM501 589h1v2h-1zM523 589h1v2h-1zM681 555h1v2h-1zM873 576h1v2h-1zM779 550h1v2h-1zM725 578h1v3h-1zM463 580h1v1h-1zM1029 582h1v1h-1zM151 591h1v1h-1zM1041 582h1v2h-1zM91 573h1v1h-1zM42 567h1v2h-1zM806 546h1v1h-1zM60 576h1v1h-1zM1234 587h1v2h-1zM923 572h1v2h-1zM261 582h1v3h-1zM167 576h1v2h-1zM748 559h1v1h-1zM787 550h1v1h-1zM455 579h1v3h-1zM383 572h1v2h-1zM569 583h1v2h-1zM1013 577h1v2h-1zM1147 578h1v1h-1zM395 574h1v1h-1zM561 596h1v2h-1zM542 602h1v1h-1zM774 561h1v2h-1zM573 579h1v2h-1zM1223 582h1v1h-1zM33 572h1v2h-1zM44 572h1v1h-1zM1192 585h1v1h-1zM900 584h1v1h-1zM451 587h1v1h-1zM399 566h1v2h-1zM619 570h1v1h-1zM447 578h1v3h-1zM15 577h1v1h-1zM957 582h1v2h-1zM1096 598h1v1h-1zM417 566h1v1h-1zM741 559h1v1h-1zM500 591h1v1h-1zM857 572h1v1h-1zM565 589h1v1h-1zM418 567h1v1h-1zM858 573h1v1h-1zM724 582h1v1h-1zM756 571h1v1h-1zM1134 584h1v1h-1zM976 574h1v1h-1zM273 584h1v1h-1zM1017 584h1v1h-1zM1268 593h1v1h-1zM402 567h1v1h-1zM801 551h1v1h-1zM926 573h1v1h-1zM215 579h1v1h-1zM1135 585h1v1h-1zM181 577h1v1h-1zM737 565h1v2h-1zM132 572h1v1h-1zM204 579h1v1h-1zM1211 580h1v1h-1zM1043 586h1v2h-1zM268 590h1v1h-1zM629 569h1v1h-1zM680 553h1v1h-1zM166 578h1v2h-1zM1244 595h1v1h-1zM846 575h1v2h-1zM41 564h1v3h-1zM1055 588h1v1h-1zM809 545h1v1h-1zM1089 599h1v1h-1zM568 585h1v2h-1zM744 555h1v1h-1zM485 588h1v1h-1zM599 582h1v1h-1zM778 552h1v2h-1zM17 576h1v2h-1zM382 570h1v2h-1zM759 566h1v2h-1zM614 575h1v2h-1zM782 550h1v1h-1zM260 579h1v3h-1zM272 583h1v1h-1zM755 568h1v2h-1zM808 544h1v1h-1zM398 568h1v2h-1zM390 574h1v1h-1zM371 570h1v1h-1zM484 587h1v1h-1zM1028 583h1v1h-1zM805 547h1v1h-1zM971 579h1v1h-1zM282 590h1v2h-1zM359 572h1v2h-1zM85 570h1v2h-1zM32 574h1v1h-1zM283 592h1v1h-1zM401 566h1v1h-1zM1053 590h1v1h-1zM86 572h1v1h-1zM55 575h1v1h-1zM708 573h1v1h-1zM845 577h1v2h-1zM165 580h1v2h-1zM572 578h1v1h-1zM63 569h1v2h-1zM709 574h1v1h-1zM575 582h1v2h-1zM439 570h1v1h-1zM108 577h1v1h-1zM738 563h1v2h-1zM989 582h1v1h-1zM841 576h1v1h-1zM613 577h1v2h-1zM1229 581h1v1h-1zM264 591h1v1h-1zM842 577h1v1h-1zM446 576h1v2h-1zM499 592h1v1h-1zM206 577h1v1h-1zM419 568h1v1h-1zM1194 583h1v1h-1zM389 573h1v1h-1zM754 566h1v2h-1zM475 585h1v1h-1zM1091 597h1v1h-1zM1031 579h1v1h-1zM772 566h1v1h-1zM928 575h1v1h-1zM502 588h1v1h-1zM323 595h1v1h-1zM1186 583h1v1h-1zM1155 577h1v1h-1zM494 592h1v2h-1zM1156 578h1v1h-1zM16 578h1v1h-1zM487 590h1v1h-1zM183 575h1v1h-1zM351 577h1v1h-1zM331 580h1v1h-1zM1160 575h1v1h-1zM859 574h1v1h-1zM753 564h1v2h-1zM807 545h1v1h-1zM574 581h1v1h-1zM1018 585h1v1h-1zM1246 592h1v1h-1zM274 585h1v1h-1zM1144 581h1v1h-1zM567 587h1v1h-1zM1019 586h1v1h-1zM486 589h1v1h-1zM855 572h1v1h-1zM811 547h1v1h-1zM826 554h1v1h-1zM19 573h1v2h-1zM187 576h1v1h-1zM1140 588h1v1h-1zM84 569h1v1h-1zM700 572h1v1h-1zM1079 599h1v1h-1zM87 573h1v2h-1zM472 583h1v1h-1zM746 557h1v1h-1zM631 567h1v1h-1zM904 576h1v1h-1zM768 563h1v1h-1zM88 575h1v1h-1zM497 594h1v1h-1zM38 565h1v1h-1zM783 551h1v1h-1zM403 568h1v1h-1zM927 574h1v1h-1zM612 579h1v2h-1zM792 547h1v1h-1zM784 552h1v1h-1zM825 553h1v1h-1zM691 571h1v1h-1zM711 576h1v1h-1zM810 546h1v1h-1zM159 584h1v2h-1zM1152 575h1v1h-1zM12 575h1v1h-1zM935 577h1v1h-1zM358 574h1v1h-1zM745 556h1v1h-1zM1220 584h1v1h-1zM330 578h1v2h-1zM707 574h1v1h-1zM1212 579h1v1h-1zM991 580h1v1h-1zM908 573h1v1h-1zM1193 584h1v1h-1zM616 572h1v1h-1zM1162 578h1v1h-1zM836 575h1v1h-1zM1143 582h1v2h-1zM1188 581h1v1h-1zM391 575h1v1h-1zM988 583h1v1h-1zM258 575h1v2h-1zM1189 582h1v1h-1zM832 563h1v2h-1zM392 576h1v1h-1zM7 576h1v1h-1zM710 575h1v1h-1zM527 593h1v1h-1zM456 578h1v1h-1zM972 580h1v1h-1zM975 576h1v1h-1zM1215 584h1v2h-1zM543 601h1v1h-1zM775 559h1v2h-1zM493 591h1v1h-1zM34 571h1v1h-1zM802 550h1v1h-1zM37 566h1v2h-1zM182 576h1v1h-1zM212 577h1v1h-1zM1146 579h1v1h-1zM843 578h1v1h-1zM687 567h1v2h-1zM444 571h1v2h-1zM174 576h1v2h-1zM752 562h1v2h-1zM688 569h1v1h-1zM143 588h1v2h-1zM158 586h1v2h-1zM983 584h1v1h-1zM922 574h1v1h-1zM998 578h1v1h-1zM1185 584h1v1h-1zM1230 582h1v1h-1zM18 575h1v1h-1zM930 577h1v1h-1zM83 570h1v1h-1zM541 603h1v1h-1zM828 556h1v1h-1zM630 568h1v1h-1zM136 581h1v1h-1zM173 575h1v1h-1zM751 561h1v1h-1zM794 550h1v1h-1zM1054 589h1v1h-1zM929 576h1v1h-1zM740 560h1v1h-1zM367 571h1v1h-1zM52 577h1v1h-1zM941 577h1v1h-1z"/>
</g>
<g clip-path="url(#c3)">
<rect x="4" y="687" width="1" height="1" fill="#c0c0c0"/>
<rect x="8" y="687" width="1" height="1" fill="#c0c0c0"/>
<rect x="12" y="687" width="1" height="1" fill="#c0c0c0"/>
<rect x="16" y="687" width="1" height="1" fill="#c0c0c0"/>
<rect x="20" y="687" width="1" height="1" fill="#c0c0c0"/>
<rect x="24" y="687" width="1" height="1" fill="#c0c0c0"/>
<rect x="28" y="686" width="1" height="2" fill="#c0c0c0"/>
<rect x="32" y="686" width="1" height="2" fill="#c0c0c0"/>
<rect x="36" y="685" width="1" height="3" fill="#c0c0c0"/>
<rect x="40" y="684" width="1" height="4" fill="#c0c0c0"/>
<rect x="44" y="684" width="1" height="4" fill="#c0c0c0"/>
<rect x="48" y="684" width="1" height="4" fill="#c0c0c0"/>
<rect x="52" y="684" width="1" height="4" fill="#c0c0c0"/>
<rect x="56" y="684" width="1" height="4" fill="#c0c0c0"/>
<rect x="60" y="685" width="1" height="3" fill="#c0c0c0"/>
<rect x="64" y="683" width="1" height="5" fill="#c0c0c0"/>
<rect x="68" y="682" width="1" height="6" fill="#c0c0c0"/>
<rect x="72" y="682" width="1" height="6" fill="#c0c0c0"/>
<rect x="76" y="683" width="1" height="5" fill="#c0c0c0"/>
<rect x="80" y="682" width="1" height="6" fill="#c0c0c0"/>
<rect x="84" y="682" width="1" height="6" fill="#c0c0c0"/>
<rect x="88" y="682" width="1" height="6" fill="#c0c0c0"/>
<rect x="92" y="682" width="1" height="6" fill="#c0c0c0"/>
<rect x="96" y="682" width="1" height="6" fill="#c0c0c0"/>
<rect x="100" y="682" width="1" height="6" fill="#c0c0c0"/>
<rect x="104" y="683" width="1" height="5" fill="#c0c0c0"/>
<rect x="108" y="683" width="1" height="5" fill="#c0c0c0"/>
<rect x="112" y="683" width="1" height="5" fill="#c0c0c0"/>
<rect x="116" y="684" width="1" height="4" fill="#c0c0c0"/>
<rect x="120" y="684" width="1" height="4" fill="#c0c0c0"/>
<rect x="124" y="684" width="1" height="4" fill="#c0c0c0"/>
<rect x="128" y="683" width="1" height="5" fill="#c0c0c0"/>
<rect x="132" y="683" width="1" height="5" fill="#c0c0c0"/>
<rect x="136" y="684" width="1" height="4" fill="#c0c0c0"/>
<rect x="140" y="685" width="1" height="3" fill="#c0c0c0"/>
<rect x="144" y="687" width="1" height="1" fill="#c0c0c0"/>
<rect x="148" y="687" width="1" height="1" fill="#c0c0c0"/>
<rect x="152" y="687" width="1" height="3" fill="#c0c0c0"/>
<rect x="156" y="687" width="1" height="4" fill="#c0c0c0"/>
<rect x="160" y="687" width="1" height="4" fill="#c0c0c0"/>
<rect x="164" y="687" width="1" height="4" fill="#c0c0c0"/>
<rect x="168" y="687" width="1" height="3" fill="#c0c0c0"/>
<rect x="172" y="687" width="1" height="2" fill="#c0c0c0"/>
<rect x="176" y="687" width="1" height="2" fill="#c0c0c0"/>
<rect x="180" y="687" width="1" height="1" fill="#c0c0c0"/>
<rect x="184" y="687" width="1" height="1" fill="#c0c0c0"/>
<rect x="188" y="687" width="1" height="1" fill="#c0c0c0"/>
<rect x="192" y="687" width="1" height="1" fill="#c0c0c0"/>
<rect x="196" y="687" width="1" height="1" fill="#c0c0c0"/>
<rect x="200" y="687" width="1" height="1" fill="#c0c0c0"/>
<rect x="204" y="687" width="1" height="1" fill="#c0c0c0"/>
<rect x="208" y="686" width="1" height="2" fill="#c0c0c0"/>
<rect x="212" y="686" width="1" height="2" fill="#c0c0c0"/>
<rect x="216" y="687" width="1" height="1" fill="#c0c0c0"/>
<rect x="220" y="687" width="1" height="1" fill="#c0c0c0"/>
<rect x="224" y="687" width="1" height="1" fill="#c0c0c0"/>
<rect x="228" y="687" width="1" height="1" fill="#c0c0c0"/>
<rect x="232" y="687" width="1" height="1" fill="#c0c0c0"/>
<rect x="236" y="686" width="1" height="2" fill="#c0c0c0"/>
<rect x="240" y="685" width="1" height="3" fill="#c0c0c0"/>
<rect x="244" y="685" width="1" height="3" fill="#c0c0c0"/>
<rect x="248" y="685" width="1" height="3" fill="#c0c0c0"/>
<rect x="252" y="684" width="1" height="4" fill="#c0c0c0"/>
<rect x="256" y="684" width="1" height="4" fill="#c0c0c0"/>
<rect x="260" y="685" width="1" height="3" fill="#c0c0c0"/>
<rect x="264" y="687" width="1" height="1" fill="#c0c0c0"/>
<rect x="268" y="687" width="1" height="1" fill="#c0c0c0"/>
<rect x="272" y="687" width="1" height="1" fill="#c0c0c0"/>
<rect x="276" y="687" width="1" height="2" fill="#c0c0c0"/>
<rect x="280" y="687" width="1" height="3" fill="#c0c0c0"/>
<rect x="284" y="687" width="1" height="4" fill="#c0c0c0"/>
<rect x="288" y="687" width="1" height="5" fill="#c0c0c0"/>
<rect x="292" y="687" width="1" height="6" fill="#c0c0c0"/>
<rect x="296" y="687" width="1" height="7" fill="#c0c0c0"/>
<rect x="300" y="687" width="1" height="8" fill="#c0c0c0"/>
<rect x="304" y="687" width="1" height="8" fill="#c0c0c0"/>
<rect x="308" y="687" width="1" height="9" fill="#c0c0c0"/>
<rect x="312" y="687" width="1" height="10" fill="#c0c0c0"/>
<rect x="316" y="687" width="1" height="10" fill="#c0c0c0"/>
<rect x="320" y="687" width="1" height="10" fill="#c0c0c0"/>
<rect x="324" y="687" width="1" height="10" fill="#c0c0c0"/>
<rect x="328" y="687" width="1" height="8" fill="#c0c0c0"/>
<rect x="332" y="687" width="1" height="7" fill="#c0c0c0"/>
<rect x="336" y="687" width="1" height="6" fill="#c0c0c0"/>
<rect x="340" y="687" width="1" height="5" fill="#c0c0c0"/>
<rect x="344" y="687" width="1" height="5" fill="#c0c0c0"/>
<rect x="348" y="687" width="1" height="4" fill="#c0c0c0"/>
<rect x="352" y="687" width="1" height="3" fill="#c0c0c0"/>
<rect x="356" y="687" width="1" height="3" fill="#c0c0c0"/>
<rect x="360" y="687" width="1" height="1" fill="#c0c0c0"/>
<rect x="364" y="687" width="1" height="1" fill="#c0c0c0"/>
<rect x="368" y="687" width="1" height="1" fill="#c0c0c0"/>
<rect x="372" y="686" width="1" height="2" fill="#c0c0c0"/>
<rect x="376" y="685" width="1" height="3" fill="#c0c0c0"/>
<rect x="380" y="685" width="1" height="3" fill="#c0c0c0"/>
<rect x="384" y="685" width="1" height="3" fill="#c0c0c0"/>
<rect x="388" y="684" width="1" height="4" fill="#c0c0c0"/>
<rect x="392" y="685" width="1" height="3" fill="#c0c0c0"/>
<rect x="396" y="685" width="1" height="3" fill="#c0c0c0"/>
<rect x="400" y="684" width="1" height="4" fill="#c0c0c0"/>
<rect x="404" y="683" width="1" height="5" fill="#c0c0c0"/>
<rect x="408" y="683" width="1" height="5" fill="#c0c0c0"/>
<rect x="412" y="682" width="1" height="6" fill="#c0c0c0"/>
<rect x="416" y="682" width="1" height="6" fill="#c0c0c0"/>
<rect x="420" y="682" width="1" height="6" fill="#c0c0c0"/>
<rect x="424" y="682" width="1" height="6" fill="#c0c0c0"/>
<rect x="428" y="682" width="1" height="6" fill="#c0c0c0"/>
<rect x="432" y="682" width="1" height="6" fill="#c0c0c0"/>
<rect x="436" y="683" width="1" height="5" fill="#c0c0c0"/>
<rect x="440" y="683" width="1" height="5" fill="#c0c0c0"/>
<rect x="444" y="683" width="1" height="5" fill="#c0c0c0"/>
<rect x="448" y="684" width="1" height="4" fill="#c0c0c0"/>
<rect x="452" y="685" width="1" height="3" fill="#c0c0c0"/>
<rect x="456" y="685" width="1" height="3" fill="#c0c0c0"/>
<rect x="460" y="686" width="1" height="2" fill="#c0c0c0"/>
<rect x="464" y="686" width="1" height="2" fill="#c0c0c0"/>
<rect x="468" y="687" width="1" height="1" fill="#c0c0c0"/>
<rect x="472" y="687" width="1" height="1" fill="#c0c0c0"/>
<rect x="476" y="687" width="1" height="1" fill="#c0c0c0"/>
<rect x="480" y="687" width="1" height="1" fill="#c0c0c0"/>
<rect x="484" y="687" width="1" height="2" fill="#c0c0c0"/>
<rect x="488" y="687" width="1" height="3" fill="#c0c0c0"/>
<rect x="492" y="687" width="1" height="4" fill="#c0c0c0"/>
<rect x="496" y="687" width="1" height="5" fill="#c0c0c0"/>
<rect x="500" y="687" width="1" height="5" fill="#c0c0c0"/>
<rect x="504" y="687" width="1" height="5" fill="#c0c0c0"/>
<rect x="508" y="687" width="1" height="5" fill="#c0c0c0"/>
<rect x="512" y="687" width="1" height="4" fill="#c0c0c0"/>
<rect x="516" y="687" width="1" height="4" fill="#c0c0c0"/>
<rect x="520" y="687" width="1" height="4" fill="#c0c0c0"/>
<rect x="524" y="687" width="1" height="5" fill="#c0c0c0"/>
<rect x="528" y="687" width="1" height="6" fill="#c0c0c0"/>
<rect x="532" y="687" width="1" height="6" fill="#c0c0c0"/>
<rect x="536" y="687" width="1" height="7" fill="#c0c0c0"/>
<rect x="540" y="687" width="1" height="9" fill="#c0c0c0"/>
<rect x="544" y="687" width="1" height="10" fill="#c0c0c0"/>
<rect x="548" y="687" width="1" height="11" fill="#c0c0c0"/>
<rect x="552" y="687" width="1" height="11" fill="#c0c0c0"/>
<rect x="556" y="687" width="1" height="11" fill="#c0c0c0"/>
<rect x="560" y="687" width="1" height="11" fill="#c0c0c0"/>
<rect x="564" y="687" width="1" height="11" fill="#c0c0c0"/>
<rect x="568" y="687" width="1" height="10" fill="#c0c0c0"/>
<rect x="572" y="687" width="1" height="8" fill="#c0c0c0"/>
<rect x="576" y="687" width="1" height="8" fill="#c0c0c0"/>
<rect x="580" y="687" width="1" height="7" fill="#c0c0c0"/>
<rect x="584" y="687" width="1" height="6" fill="#c0c0c0"/>
<rect x="588" y="687" width="1" height="6" fill="#c0c0c0"/>
<rect x="592" y="687" width="1" height="5" fill="#c0c0c0"/>
<rect x="596" y="687" width="1" height="5" fill="#c0c0c0"/>
<rect x="600" y="687" width="1" height="4" fill="#c0c0c0"/>
<rect x="604" y="687" width="1" height="4" fill="#c0c0c0"/>
<rect x="608" y="687" width="1" height="4" fill="#c0c0c0"/>
<rect x="612" y="687" width="1" height="3" fill="#c0c0c0"/>
<rect x="616" y="687" width="1" height="2" fill="#c0c0c0"/>
<rect x="620" y="687" width="1" height="1" fill="#c0c0c0"/>
<rect x="624" y="687" width="1" height="1" fill="#c0c0c0"/>
<rect x="628" y="686" width="1" height="2" fill="#c0c0c0"/>
<rect x="632" y="685" width="1" height="3" fill="#c0c0c0"/>
<rect x="636" y="684" width="1" height="4" fill="#c0c0c0"/>
<rect x="640" y="683" width="1" height="5" fill="#c0c0c0"/>
<rect x="644" y="682" width="1" height="6" fill="#c0c0c0"/>
<rect x="648" y="682" width="1" height="6" fill="#c0c0c0"/>
<rect x="652" y="681" width="1" height="7" fill="#c0c0c0"/>
<rect x="656" y="680" width="1" height="8" fill="#c0c0c0"/>
<rect x="660" y="680" width="1" height="8" fill="#c0c0c0"/>
<rect x="664" y="679" width="1" height="9" fill="#c0c0c0"/>
<rect x="668" y="678" width="1" height="10" fill="#c0c0c0"/>
<rect x="672" y="678" width="1" height="10" fill="#c0c0c0"/>
<rect x="676" y="678" width="1" height="10" fill="#c0c0c0"/>
<rect x="680" y="677" width="1" height="11" fill="#c0c0c0"/>
<rect x="684" y="678" width="1" height="10" fill="#c0c0c0"/>
<rect x="688" y="678" width="1" height="10" fill="#c0c0c0"/>
<rect x="692" y="679" width="1" height="9" fill="#c0c0c0"/>
<rect x="696" y="680" width="1" height="8" fill="#c0c0c0"/>
<rect x="700" y="681" width="1" height="7" fill="#c0c0c0"/>
<rect x="704" y="682" width="1" height="6" fill="#c0c0c0"/>
<rect x="708" y="682" width="1" height="6" fill="#c0c0c0"/>
<rect x="712" y="683" width="1" height="5" fill="#c0c0c0"/>
<rect x="716" y="683" width="1" height="5" fill="#c0c0c0"/>
<rect x="720" y="684" width="1" height="4" fill="#c0c0c0"/>
<rect x="724" y="685" width="1" height="3" fill="#c0c0c0"/>
<rect x="728" y="685" width="1" height="3" fill="#c0c0c0"/>
<rect x="732" y="684" width="1" height="4" fill="#c0c0c0"/>
<rect x="736" y="684" width="1" height="4" fill="#c0c0c0"/>
<rect x="740" y="683" width="1" height="5" fill="#c0c0c0"/>
<rect x="744" y="681" width="1" height="7" fill="#c0c0c0"/>
<rect x="748" y="680" width="1" height="8" fill="#c0c0c0"/>
<rect x="752" y="680" width="1" height="8" fill="#c0c0c0"/>
<rect x="756" y="680" width="1" height="8" fill="#c0c0c0"/>
<rect x="760" y="680" width="1" height="8" fill="#c0c0c0"/>
<rect x="764" y="679" width="1" height="9" fill="#c0c0c0"/>
<rect x="768" y="679" width="1" height="9" fill="#c0c0c0"/>
<rect x="772" y="679" width="1" height="9" fill="#c0c0c0"/>
<rect x="776" y="677" width="1" height="11" fill="#c0c0c0"/>
<rect x="780" y="672" width="1" height="16" fill="#c0c0c0"/>
<rect x="784" y="669" width="1" height="19" fill="#c0c0c0"/>
<rect x="788" y="666" width="1" height="22" fill="#c0c0c0"/>
<rect x="792" y="661" width="1" height="27" fill="#c0c0c0"/>
<rect x="796" y="659" width="1" height="29" fill="#c0c0c0"/>
<rect x="800" y="657" width="1" height="31" fill="#c0c0c0"/>
<rect x="804" y="652" width="1" height="36" fill="#c0c0c0"/>
<rect x="808" y="645" width="1" height="43" fill="#c0c0c0"/>
<rect x="812" y="640" width="1" height="48" fill="#c0c0c0"/>
<rect x="816" y="638" width="1" height="50" fill="#c0c0c0"/>
<rect x="820" y="637" width="1" height="51" fill="#c0c0c0"/>
<rect x="824" y="634" width="1" height="54" fill="#c0c0c0"/>
<rect x="828" y="634" width="1" height="54" fill="#c0c0c0"/>
<rect x="832" y="637" width="1" height="51" fill="#c0c0c0"/>
<rect x="836" y="643" width="1" height="45" fill="#c0c0c0"/>
<rect x="840" y="648" width="1" height="40" fill="#c0c0c0"/>
<rect x="844" y="654" width="1" height="34" fill="#c0c0c0"/>
<rect x="848" y="657" width="1" height="31" fill="#c0c0c0"/>
<rect x="852" y="659" width="1" height="29" fill="#c0c0c0"/>
<rect x="856" y="660" width="1" height="28" fill="#c0c0c0"/>
<rect x="860" y="663" width="1" height="25" fill="#c0c0c0"/>
<rect x="864" y="665" width="1" height="23" fill="#c0c0c0"/>
<rect x="868" y="667" width="1" height="21" fill="#c0c0c0"/>
<rect x="872" y="669" width="1" height="19" fill="#c0c0c0"/>
<rect x="876" y="672" width="1" height="16" fill="#c0c0c0"/>
<rect x="880" y="675" width="1" height="13" fill="#c0c0c0"/>
<rect x="884" y="678" width="1" height="10" fill="#c0c0c0"/>
<rect x="888" y="680" width="1" height="8" fill="#c0c0c0"/>
<rect x="892" y="682" width="1" height="6" fill="#c0c0c0"/>
<rect x="896" y="684" width="1" height="4" fill="#c0c0c0"/>
<rect x="900" y="686" width="1" height="2" fill="#c0c0c0"/>
<rect x="904" y="685" width="1" height="3" fill="#c0c0c0"/>
<rect x="908" y="683" width="1" height="5" fill="#c0c0c0"/>
<rect x="912" y="684" width="1" height="4" fill="#c0c0c0"/>
<rect x="916" y="685" width="1" height="3" fill="#c0c0c0"/>
<rect x="920" y="684" width="1" height="4" fill="#c0c0c0"/>
<rect x="924" y="682" width="1" height="6" fill="#c0c0c0"/>
<rect x="928" y="682" width="1" height="6" fill="#c0c0c0"/>
<rect x="932" y="683" width="1" height="5" fill="#c0c0c0"/>
<rect x="936" y="683" width="1" height="5" fill="#c0c0c0"/>
<rect x="940" y="683" width="1" height="5" fill="#c0c0c0"/>
<rect x="944" y="684" width="1" height="4" fill="#c0c0c0"/>
<rect x="948" y="685" width="1" height="3" fill="#c0c0c0"/>
<rect x="952" y="687" width="1" height="1" fill="#c0c0c0"/>
<rect x="956" y="687" width="1" height="2" fill="#c0c0c0"/>
<rect x="960" y="687" width="1" height="1" fill="#c0c0c0"/>
<rect x="964" y="687" width="1" height="1" fill="#c0c0c0"/>
<rect x="968" y="686" width="1" height="2" fill="#c0c0c0"/>
<rect x="972" y="687" width="1" height="1" fill="#c0c0c0"/>
<rect x="976" y="686" width="1" height="2" fill="#c0c0c0"/>
<rect x="980" y="687" width="1" height="1" fill="#c0c0c0"/>
<rect x="984" y="687" width="1" height="2" fill="#c0c0c0"/>
<rect x="988" y="687" width="1" height="3" fill="#c0c0c0"/>
<rect x="992" y="687" width="1" height="3" fill="#c0c0c0"/>
<rect x="996" y="687" width="1" height="3" fill="#c0c0c0"/>
<rect x="1000" y="687" width="1" height="1" fill="#c0c0c0"/>
<rect x="1004" y="687" width="1" height="1" fill="#c0c0c0"/>
<rect x="1008" y="687" width="1" height="1" fill="#c0c0c0"/>
<rect x="1012" y="686" width="1" height="2" fill="#c0c0c0"/>
<rect x="1016" y="687" width="1" height="1" fill="#c0c0c0"/>
<rect x="1020" y="687" width="1" height="2" fill="#c0c0c0"/>
<rect x="1024" y="687" width="1" height="4" fill="#c0c0c0"/>
<rect x="1028" y="687" width="1" height="4" fill="#c0c0c0"/>
<rect x="1032" y="687" width="1" height="3" fill="#c0c0c0"/>
<rect x="1036" y="687" width="1" height="3" fill="#c0c0c0"/>
<rect x="1040" y="687" width="1" height="3" fill="#c0c0c0"/>
<rect x="1044" y="687" width="1" height="6" fill="#c0c0c0"/>
<rect x="1048" y="687" width="1" height="8" fill="#c0c0c0"/>
<rect x="1052" y="687" width="1" height="10" fill="#c0c0c0"/>
<rect x="1056" y="687" width="1" height="10" fill="#c0c0c0"/>
<rect x="1060" y="687" width="1" height="11" fill="#c0c0c0"/>
<rect x="1064" y="687" width="1" height="14" fill="#c0c0c0"/>
<rect x="1068" y="687" width="1" height="18" fill="#c0c0c0"/>
<rect x="1072" y="687" width="1" height="20" fill="#c0c0c0"/>
<rect x="1076" y="687" width="1" height="22" fill="#c0c0c0"/>
<rect x="1080" y="687" width="1" height="24" fill="#c0c0c0"/>
<rect x="1084" y="687" width="1" height="26" fill="#c0c0c0"/>
<rect x="1088" y="687" width="1" height="27" fill="#c0c0c0"/>
<rect x="1092" y="687" width="1" height="28" fill="#c0c0c0"/>
<rect x="1096" y="687" width="1" height="28" fill="#c0c0c0"/>
<rect x="1100" y="687" width="1" height="26" fill="#c0c0c0"/>
<rect x="1104" y="687" width="1" height="23" fill="#c0c0c0"/>
<rect x="1108" y="687" width="1" height="21" fill="#c0c0c0"/>
<rect x="1112" y="687" width="1" height="18" fill="#c0c0c0"/>
<rect x="1116" y="687" width="1" height="17" fill="#c0c0c0"/>
<rect x="1120" y="687" width="1" height="16" fill="#c0c0c0"/>
<rect x="1124" y="687" width="1" height="14" fill="#c0c0c0"/>
<rect x="1128" y="687" width="1" height="13" fill="#c0c0c0"/>
<rect x="1132" y="687" width="1" height="12" fill="#c0c0c0"/>
<rect x="1136" y="687" width="1" height="11" fill="#c0c0c0"/>
<rect x="1140" y="687" width="1" height="11" fill="#c0c0c0"/>
<rect x="1144" y="687" width="1" height="10" fill="#c0c0c0"/>
<rect x="1148" y="687" width="1" height="8" fill="#c0c0c0"/>
<rect x="1152" y="687" width="1" height="6" fill="#c0c0c0"/>
<rect x="1156" y="687" width="1" height="5" fill="#c0c0c0"/>
<rect x="1160" y="687" width="1" height="3" fill="#c0c0c0"/>
<rect x="1164" y="687" width="1" height="3" fill="#c0c0c0"/>
<rect x="1168" y="687" width="1" height="4" fill="#c0c0c0"/>
<rect x="1172" y="687" width="1" height="4" fill="#c0c0c0"/>
<rect x="1176" y="687" width="1" height="4" fill="#c0c0c0"/>
<rect x="1180" y="687" width="1" height="4" fill="#c0c0c0"/>
<rect x="1184" y="687" width="1" height="5" fill="#c0c0c0"/>
<rect x="1188" y="687" width="1" height="5" fill="#c0c0c0"/>
<rect x="1192" y="687" width="1" height="5" fill="#c0c0c0"/>
<rect x="1196" y="687" width="1" height="5" fill="#c0c0c0"/>
<rect x="1200" y="687" width="1" height="4" fill="#c0c0c0"/>
<rect x="1204" y="687" width="1" height="4" fill="#c0c0c0"/>
<rect x="1208" y="687" width="1" height="4" fill="#c0c0c0"/>
<rect x="1212" y="687" width="1" height="3" fill="#c0c0c0"/>
<rect x="1216" y="687" width="1" height="4" fill="#c0c0c0"/>
<rect x="1220" y="687" width="1" height="4" fill="#c0c0c0"/>
<rect x="1224" y="687" width="1" height="4" fill="#c0c0c0"/>
<rect x="1228" y="687" width="1" height="3" fill="#c0c0c0"/>
<rect x="1232" y="687" width="1" height="4" fill="#c0c0c0"/>
<rect x="1236" y="687" width="1" height="5" fill="#c0c0c0"/>
<rect x="1240" y="687" width="1" height="7" fill="#c0c0c0"/>
<rect x="1244" y="687" width="1" height="9" fill="#c0c0c0"/>
<rect x="1248" y="687" width="1" height="9" fill="#c0c0c0"/>
<rect x="1252" y="687" width="1" height="9" fill="#c0c0c0"/>
<rect x="1256" y="687" width="1" height="10" fill="#c0c0c0"/>
<rect x="1260" y="687" width="1" height="11" fill="#c0c0c0"/>
<rect x="1264" y="687" width="1" height="11" fill="#c0c0c0"/>
<rect x="1268" y="687" width="1" height="12" fill="#c0c0c0"/>
<path fill="#ff0000" d="M563 696h2v1h-2zM568 696h3v1h-3zM574 696h3v1h-3zM580 696h3v1h-3zM1156 696h3v1h-3zM671 679h2v1h-2zM676 679h3v1h-3zM712 679h3v1h-3zM767 679h2v1h-2zM772 679h3v1h-3zM46 685h3v1h-3zM154 685h3v1h-3zM244 685h3v1h-3zM250 685h3v1h-3zM256 685h3v1h-3zM274 685h3v1h-3zM388 685h3v1h-3zM478 685h3v1h-3zM970 685h3v1h-3zM976 685h3v1h-3zM352 692h3v1h-3zM539 692h2v1h-2zM544 692h3v1h-3zM604 692h3v1h-3zM1055 692h2v1h-2zM1060 692h2v1h-2zM1252 692h3v1h-3zM340 694h3v1h-3zM551 694h2v1h-2zM556 694h3v1h-3zM592 694h3v1h-3zM1163 694h2v1h-2zM1264 694h3v1h-3zM196 687h3v1h-3zM202 687h3v1h-3zM287 687h2v1h-2zM491 687h2v1h-2zM635 687h2v1h-2zM988 687h3v1h-3zM994 687h3v1h-3zM1000 687h3v1h-3zM1006 687h3v1h-3zM1012 687h3v1h-3zM1018 687h3v1h-3zM1024 687h3v1h-3zM1103 711h2v1h-2zM1108 711h3v1h-3zM28 688h3v1h-3zM167 688h2v1h-2zM172 688h3v1h-3zM190 688h3v1h-3zM292 688h3v1h-3zM371 688h2v1h-2zM376 688h3v1h-3zM496 688h3v1h-3zM1031 688h2v1h-2zM1036 688h3v1h-3zM95 681h2v1h-2zM100 681h3v1h-3zM106 681h3v1h-3zM112 681h3v1h-3zM431 681h2v1h-2zM436 681h3v1h-3zM442 681h3v1h-3zM448 681h3v1h-3zM664 681h3v1h-3zM724 681h3v1h-3zM755 681h2v1h-2zM760 681h3v1h-3zM911 681h2v1h-2zM16 690h3v1h-3zM299 690h2v1h-2zM364 690h3v1h-3zM514 690h3v1h-3zM520 690h3v1h-3zM616 690h3v1h-3zM1048 690h3v1h-3zM1186 690h3v1h-3zM1192 690h3v1h-3zM1198 690h3v1h-3zM1204 690h3v1h-3zM1210 690h3v1h-3zM1216 690h3v1h-3zM1222 690h3v1h-3zM1228 690h3v1h-3zM1234 690h3v1h-3zM1240 690h3v1h-3zM52 684h3v1h-3zM58 684h3v1h-3zM148 684h3v1h-3zM262 684h3v1h-3zM268 684h3v1h-3zM395 684h2v1h-2zM400 684h3v1h-3zM467 684h2v1h-2zM472 684h3v1h-3zM647 684h2v1h-2zM959 684h2v1h-2zM964 684h3v1h-3zM4 693h2v1h-2zM311 693h2v1h-2zM316 693h3v1h-3zM347 693h2v1h-2zM598 693h3v1h-3zM1168 693h3v1h-3zM1258 693h3v1h-3zM35 686h2v1h-2zM40 686h3v1h-3zM160 686h3v1h-3zM208 686h3v1h-3zM214 686h3v1h-3zM220 686h3v1h-3zM226 686h3v1h-3zM232 686h3v1h-3zM238 686h3v1h-3zM280 686h3v1h-3zM383 686h2v1h-2zM484 686h3v1h-3zM640 686h3v1h-3zM982 686h3v1h-3zM323 695h2v1h-2zM328 695h3v1h-3zM334 695h3v1h-3zM586 695h3v1h-3zM1067 695h2v1h-2zM22 689h3v1h-3zM178 689h3v1h-3zM184 689h3v1h-3zM503 689h2v1h-2zM508 689h3v1h-3zM623 689h2v1h-2zM628 689h3v1h-3zM1043 689h2v1h-2zM64 683h3v1h-3zM70 683h3v1h-3zM142 683h3v1h-3zM407 683h2v1h-2zM412 683h3v1h-3zM460 683h3v1h-3zM652 683h3v1h-3zM736 683h3v1h-3zM742 683h3v1h-3zM922 683h3v1h-3zM928 683h3v1h-3zM952 683h3v1h-3zM688 677h3v1h-3zM694 677h3v1h-3zM779 677h2v1h-2zM844 640h3v1h-3zM76 682h3v1h-3zM82 682h3v1h-3zM88 682h3v1h-3zM118 682h3v1h-3zM124 682h3v1h-3zM130 682h3v1h-3zM136 682h3v1h-3zM419 682h2v1h-2zM424 682h3v1h-3zM454 682h3v1h-3zM659 682h2v1h-2zM730 682h3v1h-3zM748 682h3v1h-3zM916 682h3v1h-3zM935 682h2v1h-2zM940 682h3v1h-3zM946 682h3v1h-3zM10 691h3v1h-3zM304 691h3v1h-3zM359 691h2v1h-2zM526 691h3v1h-3zM532 691h3v1h-3zM610 691h3v1h-3zM1175 691h2v1h-2zM1180 691h3v1h-3zM1246 691h3v1h-3zM881 665h2v1h-2zM682 678h3v1h-3zM700 678h3v1h-3zM706 678h3v1h-3zM904 678h2v1h-2zM832 641h2v1h-2zM893 672h2v1h-2zM796 670h2v1h-2zM1132 704h2v1h-2zM821 648h2v1h-2zM1078 700h2v1h-2zM1144 700h2v1h-2zM1090 706h2v1h-2zM1127 706h2v1h-2zM784 676h3v1h-3zM838 639h3v1h-3zM1139 701h2v1h-2zM1072 697h2v1h-2zM1151 697h2v1h-2zM898 675h2v1h-2zM1096 709h3v1h-3zM1120 709h2v1h-2zM718 680h3v1h-3zM886 668h2v1h-2zM1115 710h2v1h-2zM1084 703h2v1h-2zM869 657h2v1h-2zM815 654h1v1h-1zM888 669h1v1h-1zM322 694h1v1h-1zM856 646h1v1h-1zM310 692h1v1h-1zM502 688h1v1h-1zM874 660h1v1h-1zM1080 701h1v1h-1zM851 643h1v1h-1zM804 665h1v1h-1zM906 679h1v1h-1zM1138 702h1v1h-1zM754 682h1v1h-1zM803 666h1v1h-1zM646 685h1v1h-1zM1092 707h1v1h-1zM778 678h1v1h-1zM827 644h1v1h-1zM286 686h1v1h-1zM382 687h1v1h-1zM1062 693h1v1h-1zM1162 695h1v1h-1zM834 640h1v1h-1zM346 694h1v1h-1zM826 645h1v1h-1zM6 692h1v1h-1zM466 683h1v1h-1zM490 686h1v1h-1zM634 688h1v1h-1zM868 656h1v1h-1zM814 655h1v1h-1zM1150 698h1v1h-1zM1054 691h1v1h-1zM1126 707h1v1h-1zM934 683h1v1h-1zM875 661h1v1h-1zM562 695h1v1h-1zM1174 692h1v1h-1zM862 651h1v1h-1zM791 673h1v1h-1zM876 662h1v1h-1zM1074 698h1v1h-1zM1066 694h1v1h-1zM802 667h1v1h-1zM658 683h1v1h-1zM1134 703h1v1h-1zM394 685h1v1h-1zM166 687h1v1h-1zM864 653h1v1h-1zM880 664h1v1h-1zM900 676h1v1h-1zM1102 710h1v1h-1zM820 649h1v1h-1zM910 680h1v1h-1zM670 680h1v1h-1zM298 689h1v1h-1zM958 683h1v1h-1zM1030 687h1v1h-1zM792 672h1v1h-1zM550 693h1v1h-1zM766 680h1v1h-1zM810 659h1v1h-1zM370 689h1v1h-1zM790 674h1v1h-1zM538 691h1v1h-1zM863 652h1v1h-1zM808 661h1v1h-1zM1122 708h1v1h-1zM809 660h1v1h-1zM406 684h1v1h-1zM798 669h1v1h-1zM622 690h1v1h-1zM850 642h1v1h-1zM34 687h1v1h-1zM857 647h1v1h-1zM358 692h1v1h-1zM858 648h1v1h-1zM1114 711h1v1h-1zM94 682h1v1h-1zM1086 704h1v1h-1zM892 671h1v1h-1zM852 644h1v1h-1zM1042 688h1v1h-1zM828 643h1v1h-1zM816 653h1v1h-1zM1146 699h1v1h-1zM418 683h1v1h-1zM430 682h1v1h-1z"/>
</g>
<rect x="1597" y="33" width="2" height="1" fill="#000"/>
<rect x="1597" y="66" width="2" height="1" fill="#000"/>
<rect x="1597" y="99" width="2" height="1" fill="#000"/>
<rect x="1597" y="132" width="2" height="1" fill="#000"/>
<rect x="1597" y="165" width="2" height="1" fill="#000"/>
<rect x="1597" y="198" width="2" height="1" fill="#000"/>
<rect x="1597" y="231" width="2" height="1" fill="#000"/>
<rect x="1597" y="264" width="2" height="1" fill="#000"/>
<rect x="1597" y="297" width="2" height="1" fill="#000"/>
<rect x="1597" y="330" width="2" height="1" fill="#000"/>
<rect x="1597" y="363" width="2" height="1" fill="#000"/>
<rect x="1597" y="396" width="2" height="1" fill="#000"/>
<rect x="1597" y="429" width="2" height="1" fill="#000"/>
<rect x="1597" y="462" width="2" height="1" fill="#000"/>
<rect x="1597" y="495" width="2" height="1" fill="#000"/>
<rect x="1597" y="528" width="2" height="1" fill="#000"/>
<rect x="4" y="720" width="1" height="3" fill="#000"/>
<rect x="68" y="720" width="1" height="3" fill="#000"/>
<rect x="132" y="720" width="1" height="3" fill="#000"/>
<rect x="196" y="720" width="1" height="3" fill="#000"/>
<rect x="260" y="720" width="1" height="3" fill="#000"/>
<rect x="324" y="720" width="1" height="3" fill="#000"/>
<rect x="388" y="720" width="1" height="3" fill="#000"/>
<rect x="452" y="720" width="1" height="3" fill="#000"/>
<rect x="516" y="720" width="1" height="3" fill="#000"/>
<rect x="580" y="720" width="1" height="3" fill="#000"/>
<rect x="644" y="720" width="1" height="3" fill="#000"/>
<rect x="708" y="720" width="1" height="3" fill="#000"/>
<rect x="772" y="720" width="1" height="3" fill="#000"/>
<rect x="836" y="720" width="1" height="3" fill="#000"/>
<rect x="900" y="720" width="1" height="3" fill="#000"/>
<rect x="964" y="720" width="1" height="3" fill="#000"/>
<rect x="1028" y="720" width="1" height="3" fill="#000"/>
<rect x="1092" y="720" width="1" height="3" fill="#000"/>
<rect x="1156" y="720" width="1" height="3" fill="#000"/>
<rect x="1220" y="720" width="1" height="3" fill="#000"/>
<rect x="1597" y="535" width="1" height="1" fill="#000"/>
<rect x="1597" y="624" width="1" height="1" fill="#000"/>
<rect x="1597" y="629" width="1" height="1" fill="#000"/>
<rect x="1597" y="687" width="2" height="1" fill="#000"/>
<rect x="1597" y="718" width="1" height="1" fill="#000"/>
<path d="M7 32h8l-4 4z" fill="#000" shape-rendering="auto"/>
<path d="M1272 26h9.4l-4.7 5.2z" fill="#c0c0c0" shape-rendering="auto"/>
<g font-family="Liberation Sans, sans-serif" shape-rendering="auto" stroke="#000" stroke-width="0.16">
<text x="1602.0" y="37" fill="#000" font-size="9.9" textLength="33.4" lengthAdjust="spacingAndGlyphs">1.47305</text>
<text x="1602.0" y="70" fill="#000" font-size="9.9" textLength="33.4" lengthAdjust="spacingAndGlyphs">1.46080</text>
<text x="1602.0" y="103" fill="#000" font-size="9.9" textLength="33.4" lengthAdjust="spacingAndGlyphs">1.44890</text>
<text x="1602.0" y="136" fill="#000" font-size="9.9" textLength="33.4" lengthAdjust="spacingAndGlyphs">1.43665</text>
<text x="1602.0" y="169" fill="#000" font-size="9.9" textLength="33.4" lengthAdjust="spacingAndGlyphs">1.42440</text>
<text x="1602.0" y="202" fill="#000" font-size="9.9" textLength="33.4" lengthAdjust="spacingAndGlyphs">1.41250</text>
<text x="1602.0" y="235" fill="#000" font-size="9.9" textLength="33.4" lengthAdjust="spacingAndGlyphs">1.40025</text>
<text x="1602.0" y="268" fill="#000" font-size="9.9" textLength="33.4" lengthAdjust="spacingAndGlyphs">1.38835</text>
<text x="1602.0" y="301" fill="#000" font-size="9.9" textLength="33.4" lengthAdjust="spacingAndGlyphs">1.37610</text>
<text x="1602.0" y="334" fill="#000" font-size="9.9" textLength="33.4" lengthAdjust="spacingAndGlyphs">1.36420</text>
<text x="1602.0" y="367" fill="#000" font-size="9.9" textLength="33.4" lengthAdjust="spacingAndGlyphs">1.35195</text>
<text x="1602.0" y="400" fill="#000" font-size="9.9" textLength="33.4" lengthAdjust="spacingAndGlyphs">1.34005</text>
<text x="1602.0" y="433" fill="#000" font-size="9.9" textLength="33.4" lengthAdjust="spacingAndGlyphs">1.32780</text>
<text x="1602.0" y="466" fill="#000" font-size="9.9" textLength="33.4" lengthAdjust="spacingAndGlyphs">1.31590</text>
<text x="1602.0" y="499" fill="#000" font-size="9.9" textLength="33.4" lengthAdjust="spacingAndGlyphs">1.30365</text>
<text x="1602.0" y="532" fill="#000" font-size="9.9" textLength="33.4" lengthAdjust="spacingAndGlyphs">1.29175</text>
<text x="3.0" y="732" fill="#000" font-size="9.9" textLength="47.1" lengthAdjust="spacingAndGlyphs">27 Jul 2019</text>
<text x="67.0" y="732" fill="#000" font-size="9.9" textLength="53.6" lengthAdjust="spacingAndGlyphs">15 Aug 2019</text>
<text x="131.0" y="732" fill="#000" font-size="9.9" textLength="47.8" lengthAdjust="spacingAndGlyphs">3 Sep 2019</text>
<text x="195.0" y="732" fill="#000" font-size="9.9" textLength="52.5" lengthAdjust="spacingAndGlyphs">21 Sep 2019</text>
<text x="259.0" y="732" fill="#000" font-size="9.9" textLength="50.2" lengthAdjust="spacingAndGlyphs">10 Oct 2019</text>
<text x="323.0" y="732" fill="#000" font-size="9.9" textLength="50.5" lengthAdjust="spacingAndGlyphs">29 Oct 2019</text>
<text x="387.0" y="732" fill="#000" font-size="9.9" textLength="52.8" lengthAdjust="spacingAndGlyphs">16 Nov 2019</text>
<text x="451.0" y="732" fill="#000" font-size="9.9" textLength="46.5" lengthAdjust="spacingAndGlyphs">5 Dec 2019</text>
<text x="515.0" y="732" fill="#000" font-size="9.9" textLength="52.6" lengthAdjust="spacingAndGlyphs">24 Dec 2019</text>
<text x="579.0" y="732" fill="#000" font-size="9.9" textLength="50.2" lengthAdjust="spacingAndGlyphs">11 Jan 2020</text>
<text x="643.0" y="732" fill="#000" font-size="9.9" textLength="50.4" lengthAdjust="spacingAndGlyphs">30 Jan 2020</text>
<text x="707.0" y="732" fill="#000" font-size="9.9" textLength="52.0" lengthAdjust="spacingAndGlyphs">18 Feb 2020</text>
<text x="771.0" y="732" fill="#000" font-size="9.9" textLength="47.2" lengthAdjust="spacingAndGlyphs">7 Mar 2020</text>
<text x="835.0" y="732" fill="#000" font-size="9.9" textLength="52.1" lengthAdjust="spacingAndGlyphs">26 Mar 2020</text>
<text x="899.0" y="732" fill="#000" font-size="9.9" textLength="50.5" lengthAdjust="spacingAndGlyphs">14 Apr 2020</text>
<text x="963.0" y="732" fill="#000" font-size="9.9" textLength="49.8" lengthAdjust="spacingAndGlyphs">2 May 2020</text>
<text x="1027.0" y="732" fill="#000" font-size="9.9" textLength="54.5" lengthAdjust="spacingAndGlyphs">21 May 2020</text>
<text x="1091.0" y="732" fill="#000" font-size="9.9" textLength="45.1" lengthAdjust="spacingAndGlyphs">9 Jun 2020</text>
<text x="1155.0" y="732" fill="#000" font-size="9.9" textLength="50.2" lengthAdjust="spacingAndGlyphs">27 Jun 2020</text>
<text x="1219.0" y="732" fill="#000" font-size="9.9" textLength="46.7" lengthAdjust="spacingAndGlyphs">16 Jul 2020</text>
<text x="1600.0" y="544" fill="#000" font-size="9.9" textLength="15.0" lengthAdjust="spacingAndGlyphs">100</text>
<text x="1599.0" y="565" fill="#000" font-size="9.9" textLength="10.2" lengthAdjust="spacingAndGlyphs">70</text>
<text x="1599.0" y="601" fill="#000" font-size="9.9" textLength="10.2" lengthAdjust="spacingAndGlyphs">30</text>
<text x="1600.3" y="622" fill="#000" font-size="9.9" textLength="5.0" lengthAdjust="spacingAndGlyphs">0</text>
<text x="1600.0" y="638" fill="#000" font-size="9.9" textLength="37.5" lengthAdjust="spacingAndGlyphs">0.032972</text>
<text x="1600.0" y="691" fill="#000" font-size="9.9" textLength="18.0" lengthAdjust="spacingAndGlyphs">0.00</text>
<text x="1600.0" y="716" fill="#000" font-size="9.9" textLength="41.0" lengthAdjust="spacingAndGlyphs">-0.018154</text>
<text x="18.8" y="37" fill="#000" font-size="9.9" textLength="66.2" lengthAdjust="spacingAndGlyphs">USDCAD,Daily</text>
<text x="91.0" y="37" fill="#000" font-size="9.9" textLength="33.2" lengthAdjust="spacingAndGlyphs">1.33695</text>
<text x="127.0" y="37" fill="#000" font-size="9.9" textLength="33.2" lengthAdjust="spacingAndGlyphs">1.33759</text>
<text x="163.0" y="37" fill="#000" font-size="9.9" textLength="33.2" lengthAdjust="spacingAndGlyphs">1.33318</text>
<text x="199.0" y="37" fill="#000" font-size="9.9" textLength="33.2" lengthAdjust="spacingAndGlyphs">1.33430</text>
<text x="8.2" y="546" fill="#000" font-size="9.9" textLength="31.6" lengthAdjust="spacingAndGlyphs">RSI(14)</text>
<text x="43.0" y="546" fill="#000" font-size="9.9" textLength="33.2" lengthAdjust="spacingAndGlyphs">33.0255</text>
<text x="8.2" y="640" fill="#000" font-size="9.9" textLength="65.6" lengthAdjust="spacingAndGlyphs">MACD(12,26,9)</text>
<text x="77.0" y="640" fill="#000" font-size="9.9" textLength="40.8" lengthAdjust="spacingAndGlyphs">-0.006323</text>
<text x="120.7" y="640" fill="#000" font-size="9.9" textLength="40.8" lengthAdjust="spacingAndGlyphs">-0.004946</text>
</g>
<rect x="1598" y="197" width="41" height="11" fill="#ff0000"/>
<rect x="1598" y="268" width="41" height="11" fill="#ff0000"/>
<rect x="1598" y="335" width="41" height="11" fill="#00ff00"/>
<rect x="1598" y="417" width="41" height="11" fill="#0000ff"/>
<rect x="1598" y="499" width="41" height="11" fill="#0000ff"/>
<rect x="1590" y="411" width="8" height="1" fill="#c0c0c0"/>
<rect x="1598" y="406" width="41" height="11" fill="#000"/>
<g font-family="Liberation Sans, sans-serif" shape-rendering="auto" stroke="#fff" stroke-width="0.2">
<text x="1602.0" y="206" fill="#fff" font-size="9.9" textLength="33.4" lengthAdjust="spacingAndGlyphs">1.41060</text>
<text x="1602.0" y="277" fill="#fff" font-size="9.9" textLength="33.4" lengthAdjust="spacingAndGlyphs">1.38464</text>
<text x="1602.0" y="344" fill="#fff" font-size="9.9" textLength="33.4" lengthAdjust="spacingAndGlyphs">1.36015</text>
<text x="1602.0" y="426" fill="#fff" font-size="9.9" textLength="33.4" lengthAdjust="spacingAndGlyphs">1.33011</text>
<text x="1602.0" y="508" fill="#fff" font-size="9.9" textLength="33.4" lengthAdjust="spacingAndGlyphs">1.30020</text>
<text x="1602.0" y="415" fill="#fff" font-size="9.9" textLength="33.4" lengthAdjust="spacingAndGlyphs">1.33430</text>
</g>
</svg>
<!-- bottom tabs -->
<div class="abs" style="left:0;top:740px;width:1639px;height:1px;background:#e8e8e8"></div>
<div class="abs" style="left:0;top:742px;width:1639px;height:1px;background:#000"></div>
<div class="abs" style="left:0;top:743px;width:1639px;height:18px;background:#f0f0f0"></div>
<div class="abs" style="left:0;top:743px;width:1px;height:18px;background:#696969"></div>
<div class="abs" style="left:0;top:761px;width:1639px;height:2px;background:#fafafa"></div>
<svg class="abs" style="left:0;top:735px" width="1639" height="28" viewBox="0 735 1639 28" font-family="Liberation Sans, sans-serif" font-size="12.3">
<rect x="314" y="741" width="102" height="19" fill="#fff" shape-rendering="crispEdges"/>
<path d="M313.5 742v18.5h103v-18.5" fill="none" stroke="#000" stroke-width="1" shape-rendering="crispEdges"/>
<rect x="417" y="743" width="1" height="18" fill="#777" shape-rendering="crispEdges"/>
<rect x="109" y="745" width="1" height="14" fill="#555" shape-rendering="crispEdges"/>
<rect x="209" y="745" width="1" height="14" fill="#555" shape-rendering="crispEdges"/>
<rect x="521" y="745" width="1" height="14" fill="#555" shape-rendering="crispEdges"/>
<rect x="621" y="745" width="1" height="14" fill="#555" shape-rendering="crispEdges"/>
<rect x="721" y="745" width="1" height="14" fill="#555" shape-rendering="crispEdges"/>
<rect x="817" y="745" width="1" height="14" fill="#555" shape-rendering="crispEdges"/>
<rect x="889" y="745" width="1" height="14" fill="#555" shape-rendering="crispEdges"/>
<rect x="969" y="745" width="1" height="14" fill="#555" shape-rendering="crispEdges"/>
<rect x="1049" y="745" width="1" height="14" fill="#555" shape-rendering="crispEdges"/>
<rect x="1129" y="745" width="1" height="14" fill="#555" shape-rendering="crispEdges"/>
<rect x="1205" y="745" width="1" height="14" fill="#555" shape-rendering="crispEdges"/>
<rect x="1289" y="745" width="1" height="14" fill="#555" shape-rendering="crispEdges"/>
<rect x="1373" y="745" width="1" height="14" fill="#555" shape-rendering="crispEdges"/>
<rect x="1453" y="745" width="1" height="14" fill="#555" shape-rendering="crispEdges"/>
<rect x="1553" y="745" width="1" height="14" fill="#555" shape-rendering="crispEdges"/>
<text x="17.0" y="756.6" fill="#6e6e6e" textLength="80.5" lengthAdjust="spacingAndGlyphs">EURUSD,Daily</text>
<text x="118.5" y="756.6" fill="#6e6e6e" textLength="80.0" lengthAdjust="spacingAndGlyphs">USDCHF,Daily</text>
<text x="219.3" y="756.6" fill="#6e6e6e" textLength="83.9" lengthAdjust="spacingAndGlyphs">AUDUSD,Daily</text>
<text x="324.1" y="756.6" fill="#000" textLength="81.6" lengthAdjust="spacingAndGlyphs">USDCAD,Daily</text>
<text x="426.3" y="756.6" fill="#6e6e6e" textLength="84.2" lengthAdjust="spacingAndGlyphs">USDCNH,Daily</text>
<text x="531.5" y="756.6" fill="#6e6e6e" textLength="78.5" lengthAdjust="spacingAndGlyphs">EURUSD,M15</text>
<text x="631.8" y="756.6" fill="#6e6e6e" textLength="78.7" lengthAdjust="spacingAndGlyphs">GBPUSD,M30</text>
<text x="732.5" y="756.6" fill="#6e6e6e" textLength="72.4" lengthAdjust="spacingAndGlyphs">XAUUSD,M5</text>
<text x="827.5" y="756.6" fill="#6e6e6e" textLength="50.0" lengthAdjust="spacingAndGlyphs">HK50,H1</text>
<text x="899.2" y="756.6" fill="#6e6e6e" textLength="58.1" lengthAdjust="spacingAndGlyphs">UK100,H1</text>
<text x="979.1" y="756.6" fill="#6e6e6e" textLength="57.4" lengthAdjust="spacingAndGlyphs">UK100,H1</text>
<text x="1059.3" y="756.6" fill="#6e6e6e" textLength="58.1" lengthAdjust="spacingAndGlyphs">GER30,H1</text>
<text x="1138.8" y="756.6" fill="#6e6e6e" textLength="55.4" lengthAdjust="spacingAndGlyphs">FRA40,H1</text>
<text x="1214.5" y="756.6" fill="#6e6e6e" textLength="64.0" lengthAdjust="spacingAndGlyphs">USOil,Daily</text>
<text x="1298.9" y="756.6" fill="#6e6e6e" textLength="63.1" lengthAdjust="spacingAndGlyphs">USDJPY,H1</text>
<text x="1383.5" y="756.6" fill="#6e6e6e" textLength="57.0" lengthAdjust="spacingAndGlyphs">DJ30,M15</text>
<text x="1462.5" y="756.6" fill="#6e6e6e" textLength="80.0" lengthAdjust="spacingAndGlyphs">CHINA300,H4</text>
<path d="M1615 748v7l-4-3.5z M1631 748v7l4-3.5z" fill="#8c8c8c"/>
</svg>
</body></html>
